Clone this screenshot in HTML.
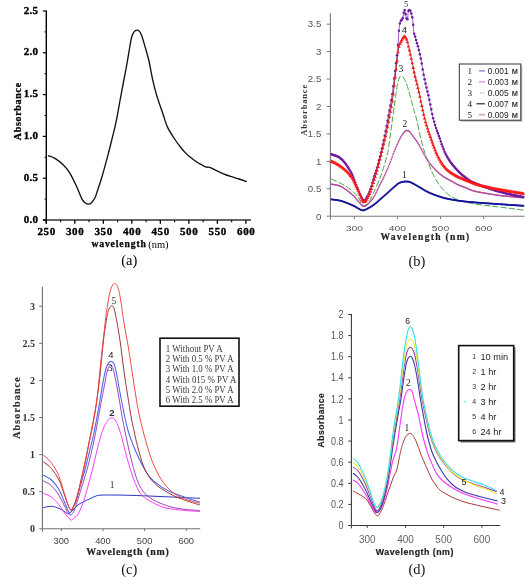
<!DOCTYPE html>
<html><head><meta charset="utf-8"><title>Absorbance spectra</title>
<style>
html,body{margin:0;padding:0;background:#fff;}
body{width:525px;height:577px;overflow:hidden;}
svg{display:block;will-change:transform;font-family:"Liberation Sans",sans-serif;}

</style></head>
<body>
<svg width="525" height="577" viewBox="0 0 525 577">
<rect x="0" y="0" width="525" height="577" fill="#fff"/>
<line x1="46.30" y1="10.50" x2="46.30" y2="223.50" stroke="#000" stroke-width="1.40"/>
<line x1="43.00" y1="220.00" x2="251.00" y2="220.00" stroke="#333" stroke-width="1.60"/>
<line x1="42.80" y1="220.00" x2="46.30" y2="220.00" stroke="#000" stroke-width="1.20"/>
<text x="38.30" y="222.50" font-family="Liberation Serif" font-size="11.00" font-weight="bold" text-anchor="end" fill="#000" letter-spacing="0.3" stroke="#000" stroke-width="0.35">0.0</text>
<line x1="42.80" y1="178.20" x2="46.30" y2="178.20" stroke="#000" stroke-width="1.20"/>
<text x="38.30" y="180.70" font-family="Liberation Serif" font-size="11.00" font-weight="bold" text-anchor="end" fill="#000" letter-spacing="0.3" stroke="#000" stroke-width="0.35">0.5</text>
<line x1="42.80" y1="136.40" x2="46.30" y2="136.40" stroke="#000" stroke-width="1.20"/>
<text x="38.30" y="138.90" font-family="Liberation Serif" font-size="11.00" font-weight="bold" text-anchor="end" fill="#000" letter-spacing="0.3" stroke="#000" stroke-width="0.35">1.0</text>
<line x1="42.80" y1="94.60" x2="46.30" y2="94.60" stroke="#000" stroke-width="1.20"/>
<text x="38.30" y="97.10" font-family="Liberation Serif" font-size="11.00" font-weight="bold" text-anchor="end" fill="#000" letter-spacing="0.3" stroke="#000" stroke-width="0.35">1.5</text>
<line x1="42.80" y1="52.80" x2="46.30" y2="52.80" stroke="#000" stroke-width="1.20"/>
<text x="38.30" y="55.30" font-family="Liberation Serif" font-size="11.00" font-weight="bold" text-anchor="end" fill="#000" letter-spacing="0.3" stroke="#000" stroke-width="0.35">2.0</text>
<line x1="42.80" y1="11.00" x2="46.30" y2="11.00" stroke="#000" stroke-width="1.20"/>
<text x="38.30" y="13.50" font-family="Liberation Serif" font-size="11.00" font-weight="bold" text-anchor="end" fill="#000" letter-spacing="0.3" stroke="#000" stroke-width="0.35">2.5</text>
<line x1="44.60" y1="199.10" x2="46.30" y2="199.10" stroke="#000" stroke-width="1.00"/>
<line x1="44.60" y1="157.30" x2="46.30" y2="157.30" stroke="#000" stroke-width="1.00"/>
<line x1="44.60" y1="115.50" x2="46.30" y2="115.50" stroke="#000" stroke-width="1.00"/>
<line x1="44.60" y1="73.70" x2="46.30" y2="73.70" stroke="#000" stroke-width="1.00"/>
<line x1="44.60" y1="31.90" x2="46.30" y2="31.90" stroke="#000" stroke-width="1.00"/>
<line x1="46.30" y1="220.00" x2="46.30" y2="223.80" stroke="#000" stroke-width="1.30"/>
<text x="46.60" y="234.80" font-family="Liberation Serif" font-size="11.00" font-weight="bold" text-anchor="middle" fill="#000" letter-spacing="0.6" stroke="#000" stroke-width="0.35">250</text>
<line x1="74.81" y1="220.00" x2="74.81" y2="223.80" stroke="#000" stroke-width="1.30"/>
<text x="75.11" y="234.80" font-family="Liberation Serif" font-size="11.00" font-weight="bold" text-anchor="middle" fill="#000" letter-spacing="0.6" stroke="#000" stroke-width="0.35">300</text>
<line x1="103.33" y1="220.00" x2="103.33" y2="223.80" stroke="#000" stroke-width="1.30"/>
<text x="103.63" y="234.80" font-family="Liberation Serif" font-size="11.00" font-weight="bold" text-anchor="middle" fill="#000" letter-spacing="0.6" stroke="#000" stroke-width="0.35">350</text>
<line x1="131.84" y1="220.00" x2="131.84" y2="223.80" stroke="#000" stroke-width="1.30"/>
<text x="132.15" y="234.80" font-family="Liberation Serif" font-size="11.00" font-weight="bold" text-anchor="middle" fill="#000" letter-spacing="0.6" stroke="#000" stroke-width="0.35">400</text>
<line x1="160.36" y1="220.00" x2="160.36" y2="223.80" stroke="#000" stroke-width="1.30"/>
<text x="160.66" y="234.80" font-family="Liberation Serif" font-size="11.00" font-weight="bold" text-anchor="middle" fill="#000" letter-spacing="0.6" stroke="#000" stroke-width="0.35">450</text>
<line x1="188.88" y1="220.00" x2="188.88" y2="223.80" stroke="#000" stroke-width="1.30"/>
<text x="189.18" y="234.80" font-family="Liberation Serif" font-size="11.00" font-weight="bold" text-anchor="middle" fill="#000" letter-spacing="0.6" stroke="#000" stroke-width="0.35">500</text>
<line x1="217.39" y1="220.00" x2="217.39" y2="223.80" stroke="#000" stroke-width="1.30"/>
<text x="217.69" y="234.80" font-family="Liberation Serif" font-size="11.00" font-weight="bold" text-anchor="middle" fill="#000" letter-spacing="0.6" stroke="#000" stroke-width="0.35">550</text>
<line x1="245.91" y1="220.00" x2="245.91" y2="223.80" stroke="#000" stroke-width="1.30"/>
<text x="246.21" y="234.80" font-family="Liberation Serif" font-size="11.00" font-weight="bold" text-anchor="middle" fill="#000" letter-spacing="0.6" stroke="#000" stroke-width="0.35">600</text>
<line x1="60.56" y1="220.00" x2="60.56" y2="222.30" stroke="#000" stroke-width="1.10"/>
<line x1="89.07" y1="220.00" x2="89.07" y2="222.30" stroke="#000" stroke-width="1.10"/>
<line x1="117.59" y1="220.00" x2="117.59" y2="222.30" stroke="#000" stroke-width="1.10"/>
<line x1="146.10" y1="220.00" x2="146.10" y2="222.30" stroke="#000" stroke-width="1.10"/>
<line x1="174.62" y1="220.00" x2="174.62" y2="222.30" stroke="#000" stroke-width="1.10"/>
<line x1="203.13" y1="220.00" x2="203.13" y2="222.30" stroke="#000" stroke-width="1.10"/>
<line x1="231.65" y1="220.00" x2="231.65" y2="222.30" stroke="#000" stroke-width="1.10"/>
<text x="0.00" y="0.00" font-family="Liberation Serif" font-size="10.00" font-weight="bold" text-anchor="middle" fill="#000" transform="translate(21.3,111.2) rotate(-90)" letter-spacing="0.7" stroke="#000" stroke-width="0.25">Absorbance</text>
<text x="91.40" y="246.80" font-family="Liberation Serif" font-size="9.70" font-weight="bold" text-anchor="start" fill="#000" letter-spacing="0.85" stroke="#000" stroke-width="0.25">wavelength</text>
<text x="148.20" y="248.00" font-family="Liberation Serif" font-size="10.50" font-weight="normal" text-anchor="start" fill="#000" >(nm)</text>
<text x="129.30" y="264.90" font-family="Liberation Serif" font-size="14.50" font-weight="normal" text-anchor="middle" fill="#000" >(a)</text>
<path d="M48.50,155.80 C49.58,156.23 52.60,156.93 55.00,158.40 C57.40,159.87 60.45,162.20 62.90,164.60 C65.35,167.00 67.42,169.15 69.70,172.80 C71.98,176.45 74.50,182.03 76.60,186.50 C78.70,190.97 80.73,196.78 82.30,199.60 C83.87,202.42 84.97,202.65 86.00,203.40 C87.03,204.15 87.67,204.13 88.50,204.10 C89.33,204.07 89.93,204.22 91.00,203.20 C92.07,202.18 93.73,200.37 94.90,198.00 C96.07,195.63 96.87,192.38 98.00,189.00 C99.13,185.62 100.13,183.02 101.70,177.70 C103.27,172.38 105.77,163.22 107.40,157.10 C109.03,150.98 110.17,146.33 111.50,141.00 C112.83,135.67 114.38,129.60 115.40,125.10 C116.42,120.60 116.83,118.10 117.60,114.00 C118.37,109.90 119.02,105.83 120.00,100.50 C120.98,95.17 122.35,88.08 123.50,82.00 C124.65,75.92 125.88,69.67 126.90,64.00 C127.92,58.33 128.85,52.33 129.60,48.00 C130.35,43.67 130.83,40.40 131.40,38.00 C131.97,35.60 132.40,34.77 133.00,33.60 C133.60,32.43 134.32,31.57 135.00,31.00 C135.68,30.43 136.43,30.22 137.10,30.20 C137.77,30.18 138.27,30.10 139.00,30.90 C139.73,31.70 140.57,32.63 141.50,35.00 C142.43,37.37 143.68,42.02 144.60,45.10 C145.52,48.18 146.25,50.77 147.00,53.50 C147.75,56.23 148.17,57.18 149.10,61.50 C150.03,65.82 151.45,74.13 152.60,79.40 C153.75,84.67 154.85,89.00 156.00,93.10 C157.15,97.20 158.35,100.57 159.50,104.00 C160.65,107.43 161.58,109.88 162.90,113.70 C164.22,117.52 165.50,122.77 167.40,126.90 C169.30,131.03 172.20,135.23 174.30,138.50 C176.40,141.77 178.10,144.07 180.00,146.50 C181.90,148.93 183.87,151.22 185.70,153.10 C187.53,154.98 189.10,156.27 191.00,157.80 C192.90,159.33 195.27,161.10 197.10,162.30 C198.93,163.50 200.47,164.20 202.00,165.00 C203.53,165.80 205.02,166.72 206.30,167.10 C207.58,167.48 208.25,166.85 209.70,167.30 C211.15,167.75 212.90,168.80 215.00,169.80 C217.10,170.80 219.57,172.15 222.30,173.30 C225.03,174.45 228.62,175.75 231.40,176.70 C234.18,177.65 236.52,178.20 239.00,179.00 C241.48,179.80 245.08,181.08 246.30,181.50" fill="none" stroke="#111" stroke-width="1.35" stroke-linejoin="round" stroke-linecap="round" />
<line x1="330.40" y1="13.20" x2="330.40" y2="216.20" stroke="#7a7a7a" stroke-width="1.10"/>
<line x1="330.40" y1="216.20" x2="524.50" y2="216.20" stroke="#7a7a7a" stroke-width="1.10"/>
<line x1="326.60" y1="216.20" x2="330.40" y2="216.20" stroke="#7a7a7a" stroke-width="1.00"/>
<text transform="translate(321.30,219.50) scale(1.080,1)" font-family="Liberation Sans" font-size="9.00" font-weight="normal" text-anchor="end" fill="#555" >0</text>
<line x1="326.60" y1="188.77" x2="330.40" y2="188.77" stroke="#7a7a7a" stroke-width="1.00"/>
<text transform="translate(321.30,192.07) scale(1.080,1)" font-family="Liberation Sans" font-size="9.00" font-weight="normal" text-anchor="end" fill="#555" >0.5</text>
<line x1="326.60" y1="161.34" x2="330.40" y2="161.34" stroke="#7a7a7a" stroke-width="1.00"/>
<text transform="translate(321.30,164.64) scale(1.080,1)" font-family="Liberation Sans" font-size="9.00" font-weight="normal" text-anchor="end" fill="#555" >1</text>
<line x1="326.60" y1="133.91" x2="330.40" y2="133.91" stroke="#7a7a7a" stroke-width="1.00"/>
<text transform="translate(321.30,137.21) scale(1.080,1)" font-family="Liberation Sans" font-size="9.00" font-weight="normal" text-anchor="end" fill="#555" >1.5</text>
<line x1="326.60" y1="106.48" x2="330.40" y2="106.48" stroke="#7a7a7a" stroke-width="1.00"/>
<text transform="translate(321.30,109.78) scale(1.080,1)" font-family="Liberation Sans" font-size="9.00" font-weight="normal" text-anchor="end" fill="#555" >2</text>
<line x1="326.60" y1="79.05" x2="330.40" y2="79.05" stroke="#7a7a7a" stroke-width="1.00"/>
<text transform="translate(321.30,82.35) scale(1.080,1)" font-family="Liberation Sans" font-size="9.00" font-weight="normal" text-anchor="end" fill="#555" >2.5</text>
<line x1="326.60" y1="51.62" x2="330.40" y2="51.62" stroke="#7a7a7a" stroke-width="1.00"/>
<text transform="translate(321.30,54.92) scale(1.080,1)" font-family="Liberation Sans" font-size="9.00" font-weight="normal" text-anchor="end" fill="#555" >3</text>
<line x1="326.60" y1="24.19" x2="330.40" y2="24.19" stroke="#7a7a7a" stroke-width="1.00"/>
<text transform="translate(321.30,27.49) scale(1.080,1)" font-family="Liberation Sans" font-size="9.00" font-weight="normal" text-anchor="end" fill="#555" >3.5</text>
<line x1="330.40" y1="216.20" x2="330.40" y2="219.60" stroke="#7a7a7a" stroke-width="1.00"/>
<line x1="354.30" y1="216.20" x2="354.30" y2="219.00" stroke="#7a7a7a" stroke-width="1.00"/>
<text transform="translate(354.30,230.60) scale(1.300,1)" font-family="Liberation Sans" font-size="8.00" font-weight="normal" text-anchor="middle" fill="#555" >300</text>
<line x1="397.40" y1="216.20" x2="397.40" y2="219.00" stroke="#7a7a7a" stroke-width="1.00"/>
<text transform="translate(397.40,230.60) scale(1.300,1)" font-family="Liberation Sans" font-size="8.00" font-weight="normal" text-anchor="middle" fill="#555" >400</text>
<line x1="440.50" y1="216.20" x2="440.50" y2="219.00" stroke="#7a7a7a" stroke-width="1.00"/>
<text transform="translate(440.50,230.60) scale(1.300,1)" font-family="Liberation Sans" font-size="8.00" font-weight="normal" text-anchor="middle" fill="#555" >500</text>
<line x1="483.60" y1="216.20" x2="483.60" y2="219.00" stroke="#7a7a7a" stroke-width="1.00"/>
<text transform="translate(483.60,230.60) scale(1.300,1)" font-family="Liberation Sans" font-size="8.00" font-weight="normal" text-anchor="middle" fill="#555" >600</text>
<text x="0.00" y="0.00" font-family="Liberation Serif" font-size="8.40" font-weight="bold" text-anchor="middle" fill="#333" transform="translate(307.4,109.8) rotate(-90)" letter-spacing="0.9">Absorbance</text>
<text x="380.40" y="239.80" font-family="Liberation Serif" font-size="9.60" font-weight="bold" text-anchor="start" fill="#222" letter-spacing="1.3" stroke="#222" stroke-width="0.2">Wavelength (nm)</text>
<text x="417.00" y="265.50" font-family="Liberation Serif" font-size="14.50" font-weight="normal" text-anchor="middle" fill="#111" >(b)</text>
<path d="M331.50,179.00 C333.78,180.12 341.32,183.32 345.20,185.70 C349.08,188.08 352.50,191.08 354.80,193.30 C357.10,195.52 357.58,197.02 359.00,199.00 C360.42,200.98 361.80,204.53 363.30,205.20 C364.80,205.87 366.38,204.87 368.00,203.00 C369.62,201.13 371.13,197.83 373.00,194.00 C374.87,190.17 377.62,183.83 379.20,180.00 C380.78,176.17 381.45,174.17 382.50,171.00 C383.55,167.83 384.58,164.33 385.50,161.00 C386.42,157.67 387.08,156.17 388.00,151.00 C388.92,145.83 390.20,135.67 391.00,130.00 C391.80,124.33 392.27,120.83 392.80,117.00 C393.33,113.17 393.70,110.67 394.20,107.00 C394.70,103.33 395.25,98.83 395.80,95.00 C396.35,91.17 396.92,86.83 397.50,84.00 C398.08,81.17 398.72,79.37 399.30,78.00 C399.88,76.63 400.42,76.00 401.00,75.80 C401.58,75.60 402.22,76.18 402.80,76.80 C403.38,77.42 403.93,78.47 404.50,79.50 C405.07,80.53 405.53,81.25 406.20,83.00 C406.87,84.75 407.62,87.00 408.50,90.00 C409.38,93.00 410.58,97.58 411.50,101.00 C412.42,104.42 413.12,107.33 414.00,110.50 C414.88,113.67 415.85,116.10 416.80,120.00 C417.75,123.90 418.63,129.28 419.70,133.90 C420.77,138.52 421.82,143.08 423.20,147.70 C424.58,152.32 426.27,156.98 428.00,161.60 C429.73,166.22 431.52,171.25 433.60,175.40 C435.68,179.55 437.97,183.25 440.50,186.50 C443.03,189.75 445.80,192.65 448.80,194.90 C451.80,197.15 454.80,198.60 458.50,200.00 C462.20,201.40 466.42,202.38 471.00,203.30 C475.58,204.22 480.93,204.83 486.00,205.50 C491.07,206.17 495.13,206.53 501.40,207.30 C507.67,208.07 519.90,209.63 523.60,210.10" fill="none" stroke="#3f9f3f" stroke-width="0.95" stroke-linejoin="round" stroke-linecap="round" stroke-dasharray="5.5 2.8"/>
<path d="M331.50,184.20 C333.15,184.62 337.83,184.87 341.40,186.70 C344.97,188.53 350.13,192.82 352.90,195.20 C355.67,197.58 356.27,199.15 358.00,201.00 C359.73,202.85 361.63,205.80 363.30,206.30 C364.97,206.80 366.25,205.53 368.00,204.00 C369.75,202.47 371.97,200.02 373.80,197.10 C375.63,194.18 377.40,189.68 379.00,186.50 C380.60,183.32 382.07,180.75 383.40,178.00 C384.73,175.25 385.73,172.92 387.00,170.00 C388.27,167.08 389.70,163.83 391.00,160.50 C392.30,157.17 393.42,153.42 394.80,150.00 C396.18,146.58 398.10,142.50 399.30,140.00 C400.50,137.50 401.13,136.37 402.00,135.00 C402.87,133.63 403.65,132.55 404.50,131.80 C405.35,131.05 406.18,130.47 407.10,130.50 C408.02,130.53 408.85,130.83 410.00,132.00 C411.15,133.17 412.62,135.57 414.00,137.50 C415.38,139.43 416.88,141.27 418.30,143.60 C419.72,145.93 421.12,148.97 422.50,151.50 C423.88,154.03 425.02,156.38 426.60,158.80 C428.18,161.22 430.15,163.80 432.00,166.00 C433.85,168.20 435.70,170.17 437.70,172.00 C439.70,173.83 441.68,175.47 444.00,177.00 C446.32,178.53 449.27,179.90 451.60,181.20 C453.93,182.50 455.70,183.73 458.00,184.80 C460.30,185.87 463.07,186.67 465.40,187.60 C467.73,188.53 469.57,189.62 472.00,190.40 C474.43,191.18 475.33,191.45 480.00,192.30 C484.67,193.15 492.73,194.58 500.00,195.50 C507.27,196.42 519.67,197.42 523.60,197.80" fill="none" stroke="#d080b8" stroke-width="1.00" stroke-linejoin="round" stroke-linecap="round" />
<g fill="#b04a98"><rect x="330.80" y="183.50" width="1.4" height="1.4"/><rect x="331.75" y="183.68" width="1.4" height="1.4"/><rect x="332.70" y="183.83" width="1.4" height="1.4"/><rect x="333.65" y="183.98" width="1.4" height="1.4"/><rect x="334.60" y="184.14" width="1.4" height="1.4"/><rect x="335.55" y="184.32" width="1.4" height="1.4"/><rect x="336.50" y="184.53" width="1.4" height="1.4"/><rect x="337.45" y="184.77" width="1.4" height="1.4"/><rect x="338.40" y="185.06" width="1.4" height="1.4"/><rect x="339.35" y="185.40" width="1.4" height="1.4"/><rect x="340.30" y="185.80" width="1.4" height="1.4"/><rect x="341.25" y="186.29" width="1.4" height="1.4"/><rect x="342.20" y="186.85" width="1.4" height="1.4"/><rect x="343.15" y="187.46" width="1.4" height="1.4"/><rect x="344.10" y="188.10" width="1.4" height="1.4"/><rect x="345.05" y="188.77" width="1.4" height="1.4"/><rect x="346.00" y="189.48" width="1.4" height="1.4"/><rect x="346.95" y="190.20" width="1.4" height="1.4"/><rect x="347.90" y="190.94" width="1.4" height="1.4"/><rect x="348.85" y="191.70" width="1.4" height="1.4"/><rect x="349.80" y="192.48" width="1.4" height="1.4"/><rect x="350.75" y="193.27" width="1.4" height="1.4"/><rect x="351.70" y="194.07" width="1.4" height="1.4"/><rect x="352.65" y="194.90" width="1.4" height="1.4"/><rect x="353.60" y="195.81" width="1.4" height="1.4"/><rect x="354.55" y="196.87" width="1.4" height="1.4"/><rect x="355.50" y="198.08" width="1.4" height="1.4"/><rect x="356.45" y="199.32" width="1.4" height="1.4"/><rect x="357.40" y="200.41" width="1.4" height="1.4"/><rect x="358.35" y="201.51" width="1.4" height="1.4"/><rect x="359.30" y="202.66" width="1.4" height="1.4"/><rect x="360.25" y="203.77" width="1.4" height="1.4"/><rect x="361.20" y="204.72" width="1.4" height="1.4"/><rect x="362.15" y="205.41" width="1.4" height="1.4"/><rect x="363.10" y="205.70" width="1.4" height="1.4"/><rect x="364.05" y="205.60" width="1.4" height="1.4"/><rect x="365.00" y="205.16" width="1.4" height="1.4"/><rect x="365.95" y="204.47" width="1.4" height="1.4"/><rect x="366.90" y="203.65" width="1.4" height="1.4"/><rect x="367.85" y="202.80" width="1.4" height="1.4"/><rect x="368.80" y="201.87" width="1.4" height="1.4"/><rect x="369.75" y="200.85" width="1.4" height="1.4"/><rect x="370.70" y="199.73" width="1.4" height="1.4"/><rect x="371.65" y="198.51" width="1.4" height="1.4"/><rect x="372.60" y="197.17" width="1.4" height="1.4"/><rect x="373.55" y="195.65" width="1.4" height="1.4"/><rect x="374.50" y="193.88" width="1.4" height="1.4"/><rect x="375.45" y="191.93" width="1.4" height="1.4"/><rect x="376.40" y="189.86" width="1.4" height="1.4"/><rect x="377.35" y="187.78" width="1.4" height="1.4"/><rect x="378.30" y="185.80" width="1.4" height="1.4"/><rect x="379.25" y="183.95" width="1.4" height="1.4"/><rect x="380.20" y="182.14" width="1.4" height="1.4"/><rect x="381.15" y="180.35" width="1.4" height="1.4"/><rect x="382.10" y="178.51" width="1.4" height="1.4"/><rect x="383.05" y="176.57" width="1.4" height="1.4"/><rect x="384.00" y="174.53" width="1.4" height="1.4"/><rect x="384.95" y="172.40" width="1.4" height="1.4"/><rect x="385.90" y="170.22" width="1.4" height="1.4"/><rect x="386.85" y="168.04" width="1.4" height="1.4"/><rect x="387.80" y="165.84" width="1.4" height="1.4"/><rect x="388.75" y="163.61" width="1.4" height="1.4"/><rect x="389.70" y="161.31" width="1.4" height="1.4"/><rect x="390.65" y="158.88" width="1.4" height="1.4"/><rect x="391.60" y="156.23" width="1.4" height="1.4"/><rect x="392.55" y="153.48" width="1.4" height="1.4"/><rect x="393.50" y="150.84" width="1.4" height="1.4"/><rect x="394.45" y="148.45" width="1.4" height="1.4"/><rect x="395.40" y="146.23" width="1.4" height="1.4"/><rect x="396.35" y="144.11" width="1.4" height="1.4"/><rect x="397.30" y="142.05" width="1.4" height="1.4"/><rect x="398.25" y="140.03" width="1.4" height="1.4"/><rect x="399.20" y="138.07" width="1.4" height="1.4"/><rect x="400.15" y="136.24" width="1.4" height="1.4"/><rect x="401.10" y="134.62" width="1.4" height="1.4"/><rect x="402.05" y="133.16" width="1.4" height="1.4"/><rect x="403.00" y="131.92" width="1.4" height="1.4"/><rect x="403.95" y="130.97" width="1.4" height="1.4"/><rect x="404.90" y="130.26" width="1.4" height="1.4"/><rect x="405.85" y="129.85" width="1.4" height="1.4"/><rect x="406.80" y="129.83" width="1.4" height="1.4"/><rect x="407.75" y="130.12" width="1.4" height="1.4"/><rect x="408.70" y="130.74" width="1.4" height="1.4"/><rect x="409.65" y="131.68" width="1.4" height="1.4"/><rect x="410.60" y="132.90" width="1.4" height="1.4"/><rect x="411.55" y="134.25" width="1.4" height="1.4"/><rect x="412.50" y="135.65" width="1.4" height="1.4"/><rect x="413.45" y="137.01" width="1.4" height="1.4"/><rect x="414.40" y="138.30" width="1.4" height="1.4"/><rect x="415.35" y="139.58" width="1.4" height="1.4"/><rect x="416.30" y="140.91" width="1.4" height="1.4"/><rect x="417.25" y="142.34" width="1.4" height="1.4"/><rect x="418.20" y="143.93" width="1.4" height="1.4"/><rect x="419.15" y="145.69" width="1.4" height="1.4"/><rect x="420.10" y="147.53" width="1.4" height="1.4"/><rect x="421.05" y="149.39" width="1.4" height="1.4"/><rect x="422.00" y="151.17" width="1.4" height="1.4"/><rect x="422.95" y="152.95" width="1.4" height="1.4"/><rect x="423.90" y="154.72" width="1.4" height="1.4"/><rect x="424.85" y="156.41" width="1.4" height="1.4"/><rect x="425.80" y="157.95" width="1.4" height="1.4"/><rect x="426.75" y="159.36" width="1.4" height="1.4"/><rect x="427.70" y="160.70" width="1.4" height="1.4"/><rect x="428.65" y="161.98" width="1.4" height="1.4"/><rect x="429.60" y="163.21" width="1.4" height="1.4"/><rect x="430.55" y="164.39" width="1.4" height="1.4"/><rect x="431.50" y="165.54" width="1.4" height="1.4"/><rect x="432.45" y="166.64" width="1.4" height="1.4"/><rect x="433.40" y="167.69" width="1.4" height="1.4"/><rect x="434.35" y="168.71" width="1.4" height="1.4"/><rect x="435.30" y="169.67" width="1.4" height="1.4"/><rect x="436.25" y="170.60" width="1.4" height="1.4"/><rect x="437.20" y="171.48" width="1.4" height="1.4"/><rect x="438.15" y="172.33" width="1.4" height="1.4"/><rect x="439.10" y="173.15" width="1.4" height="1.4"/><rect x="440.05" y="173.93" width="1.4" height="1.4"/><rect x="441.00" y="174.67" width="1.4" height="1.4"/><rect x="441.95" y="175.37" width="1.4" height="1.4"/><rect x="442.90" y="176.03" width="1.4" height="1.4"/><rect x="443.85" y="176.65" width="1.4" height="1.4"/><rect x="444.80" y="177.23" width="1.4" height="1.4"/><rect x="445.75" y="177.76" width="1.4" height="1.4"/><rect x="446.70" y="178.28" width="1.4" height="1.4"/><rect x="447.65" y="178.78" width="1.4" height="1.4"/><rect x="448.60" y="179.27" width="1.4" height="1.4"/><rect x="449.55" y="179.77" width="1.4" height="1.4"/><rect x="450.50" y="180.28" width="1.4" height="1.4"/><rect x="451.45" y="180.81" width="1.4" height="1.4"/><rect x="452.40" y="181.37" width="1.4" height="1.4"/><rect x="453.35" y="181.93" width="1.4" height="1.4"/><rect x="454.30" y="182.50" width="1.4" height="1.4"/><rect x="455.25" y="183.04" width="1.4" height="1.4"/><rect x="456.20" y="183.56" width="1.4" height="1.4"/><rect x="457.15" y="184.03" width="1.4" height="1.4"/><rect x="458.10" y="184.45" width="1.4" height="1.4"/><rect x="459.05" y="184.84" width="1.4" height="1.4"/><rect x="460.00" y="185.20" width="1.4" height="1.4"/><rect x="460.95" y="185.54" width="1.4" height="1.4"/><rect x="461.90" y="185.87" width="1.4" height="1.4"/><rect x="462.85" y="186.21" width="1.4" height="1.4"/><rect x="463.80" y="186.55" width="1.4" height="1.4"/><rect x="464.75" y="186.92" width="1.4" height="1.4"/><rect x="465.70" y="187.32" width="1.4" height="1.4"/><rect x="466.65" y="187.75" width="1.4" height="1.4"/><rect x="467.60" y="188.19" width="1.4" height="1.4"/><rect x="468.55" y="188.62" width="1.4" height="1.4"/><rect x="469.50" y="189.03" width="1.4" height="1.4"/><rect x="470.45" y="189.41" width="1.4" height="1.4"/><rect x="471.40" y="189.73" width="1.4" height="1.4"/><rect x="472.35" y="190.03" width="1.4" height="1.4"/><rect x="473.30" y="190.32" width="1.4" height="1.4"/><rect x="474.25" y="190.57" width="1.4" height="1.4"/><rect x="475.20" y="190.80" width="1.4" height="1.4"/><rect x="476.15" y="191.00" width="1.4" height="1.4"/><rect x="477.10" y="191.19" width="1.4" height="1.4"/><rect x="478.05" y="191.37" width="1.4" height="1.4"/><rect x="479.00" y="191.55" width="1.4" height="1.4"/><rect x="479.95" y="191.72" width="1.4" height="1.4"/><rect x="480.90" y="191.89" width="1.4" height="1.4"/><rect x="481.85" y="192.06" width="1.4" height="1.4"/><rect x="482.80" y="192.23" width="1.4" height="1.4"/><rect x="483.75" y="192.40" width="1.4" height="1.4"/><rect x="484.70" y="192.56" width="1.4" height="1.4"/><rect x="485.65" y="192.73" width="1.4" height="1.4"/><rect x="486.60" y="192.89" width="1.4" height="1.4"/><rect x="487.55" y="193.05" width="1.4" height="1.4"/><rect x="488.50" y="193.20" width="1.4" height="1.4"/><rect x="489.45" y="193.36" width="1.4" height="1.4"/><rect x="490.40" y="193.51" width="1.4" height="1.4"/><rect x="491.35" y="193.66" width="1.4" height="1.4"/><rect x="492.30" y="193.81" width="1.4" height="1.4"/><rect x="493.25" y="193.96" width="1.4" height="1.4"/><rect x="494.20" y="194.10" width="1.4" height="1.4"/><rect x="495.15" y="194.24" width="1.4" height="1.4"/><rect x="496.10" y="194.37" width="1.4" height="1.4"/><rect x="497.05" y="194.50" width="1.4" height="1.4"/><rect x="498.00" y="194.63" width="1.4" height="1.4"/><rect x="498.95" y="194.76" width="1.4" height="1.4"/><rect x="499.90" y="194.87" width="1.4" height="1.4"/><rect x="500.85" y="194.99" width="1.4" height="1.4"/><rect x="501.80" y="195.10" width="1.4" height="1.4"/><rect x="502.75" y="195.20" width="1.4" height="1.4"/><rect x="503.70" y="195.31" width="1.4" height="1.4"/><rect x="504.65" y="195.40" width="1.4" height="1.4"/><rect x="505.60" y="195.50" width="1.4" height="1.4"/><rect x="506.55" y="195.60" width="1.4" height="1.4"/><rect x="507.50" y="195.69" width="1.4" height="1.4"/><rect x="508.45" y="195.78" width="1.4" height="1.4"/><rect x="509.40" y="195.87" width="1.4" height="1.4"/><rect x="510.35" y="195.96" width="1.4" height="1.4"/><rect x="511.30" y="196.05" width="1.4" height="1.4"/><rect x="512.25" y="196.14" width="1.4" height="1.4"/><rect x="513.20" y="196.23" width="1.4" height="1.4"/><rect x="514.15" y="196.31" width="1.4" height="1.4"/><rect x="515.10" y="196.40" width="1.4" height="1.4"/><rect x="516.05" y="196.48" width="1.4" height="1.4"/><rect x="517.00" y="196.57" width="1.4" height="1.4"/><rect x="517.95" y="196.65" width="1.4" height="1.4"/><rect x="518.90" y="196.74" width="1.4" height="1.4"/><rect x="519.85" y="196.82" width="1.4" height="1.4"/><rect x="520.80" y="196.91" width="1.4" height="1.4"/><rect x="521.75" y="196.99" width="1.4" height="1.4"/><rect x="522.70" y="197.08" width="1.4" height="1.4"/></g>
<path d="M331.50,199.40 C333.15,199.67 337.83,199.98 341.40,201.00 C344.97,202.02 350.13,204.28 352.90,205.50 C355.67,206.72 356.42,207.50 358.00,208.30 C359.58,209.10 361.07,210.12 362.40,210.30 C363.73,210.48 364.10,210.32 366.00,209.40 C367.90,208.48 371.47,206.45 373.80,204.80 C376.13,203.15 377.78,201.42 380.00,199.50 C382.22,197.58 384.32,195.75 387.10,193.30 C389.88,190.85 394.38,186.63 396.70,184.80 C399.02,182.97 399.42,182.85 401.00,182.30 C402.58,181.75 404.62,181.50 406.20,181.50 C407.78,181.50 408.48,181.47 410.50,182.30 C412.52,183.13 415.38,184.87 418.30,186.50 C421.22,188.13 424.30,190.37 428.00,192.10 C431.70,193.83 436.57,195.65 440.50,196.90 C444.43,198.15 447.52,198.83 451.60,199.60 C455.68,200.37 460.27,200.97 465.00,201.50 C469.73,202.03 473.93,202.33 480.00,202.80 C486.07,203.27 494.13,203.80 501.40,204.30 C508.67,204.80 519.90,205.55 523.60,205.80" fill="none" stroke="#2a2ab8" stroke-width="1.00" stroke-linejoin="round" stroke-linecap="round" />
<g fill="#14149a"><rect x="330.65" y="198.55" width="1.7" height="1.7"/><rect x="331.60" y="198.68" width="1.7" height="1.7"/><rect x="332.55" y="198.79" width="1.7" height="1.7"/><rect x="333.50" y="198.90" width="1.7" height="1.7"/><rect x="334.45" y="199.01" width="1.7" height="1.7"/><rect x="335.40" y="199.14" width="1.7" height="1.7"/><rect x="336.35" y="199.28" width="1.7" height="1.7"/><rect x="337.30" y="199.43" width="1.7" height="1.7"/><rect x="338.25" y="199.61" width="1.7" height="1.7"/><rect x="339.20" y="199.81" width="1.7" height="1.7"/><rect x="340.15" y="200.04" width="1.7" height="1.7"/><rect x="341.10" y="200.31" width="1.7" height="1.7"/><rect x="342.05" y="200.62" width="1.7" height="1.7"/><rect x="343.00" y="200.94" width="1.7" height="1.7"/><rect x="343.95" y="201.29" width="1.7" height="1.7"/><rect x="344.90" y="201.65" width="1.7" height="1.7"/><rect x="345.85" y="202.02" width="1.7" height="1.7"/><rect x="346.80" y="202.41" width="1.7" height="1.7"/><rect x="347.75" y="202.80" width="1.7" height="1.7"/><rect x="348.70" y="203.20" width="1.7" height="1.7"/><rect x="349.65" y="203.60" width="1.7" height="1.7"/><rect x="350.60" y="204.01" width="1.7" height="1.7"/><rect x="351.55" y="204.43" width="1.7" height="1.7"/><rect x="352.50" y="204.85" width="1.7" height="1.7"/><rect x="353.45" y="205.31" width="1.7" height="1.7"/><rect x="354.40" y="205.82" width="1.7" height="1.7"/><rect x="355.35" y="206.40" width="1.7" height="1.7"/><rect x="356.30" y="206.98" width="1.7" height="1.7"/><rect x="357.25" y="207.50" width="1.7" height="1.7"/><rect x="358.20" y="208.01" width="1.7" height="1.7"/><rect x="359.15" y="208.53" width="1.7" height="1.7"/><rect x="360.10" y="209.00" width="1.7" height="1.7"/><rect x="361.05" y="209.35" width="1.7" height="1.7"/><rect x="362.00" y="209.50" width="1.7" height="1.7"/><rect x="362.95" y="209.46" width="1.7" height="1.7"/><rect x="363.90" y="209.13" width="1.7" height="1.7"/><rect x="364.85" y="208.69" width="1.7" height="1.7"/><rect x="365.80" y="208.23" width="1.7" height="1.7"/><rect x="366.75" y="207.73" width="1.7" height="1.7"/><rect x="367.70" y="207.20" width="1.7" height="1.7"/><rect x="368.65" y="206.66" width="1.7" height="1.7"/><rect x="369.60" y="206.10" width="1.7" height="1.7"/><rect x="370.55" y="205.53" width="1.7" height="1.7"/><rect x="371.50" y="204.93" width="1.7" height="1.7"/><rect x="372.45" y="204.30" width="1.7" height="1.7"/><rect x="373.40" y="203.62" width="1.7" height="1.7"/><rect x="374.35" y="202.89" width="1.7" height="1.7"/><rect x="375.30" y="202.10" width="1.7" height="1.7"/><rect x="376.25" y="201.26" width="1.7" height="1.7"/><rect x="377.20" y="200.40" width="1.7" height="1.7"/><rect x="378.15" y="199.53" width="1.7" height="1.7"/><rect x="379.10" y="198.69" width="1.7" height="1.7"/><rect x="380.05" y="197.87" width="1.7" height="1.7"/><rect x="381.00" y="197.05" width="1.7" height="1.7"/><rect x="381.95" y="196.22" width="1.7" height="1.7"/><rect x="382.90" y="195.39" width="1.7" height="1.7"/><rect x="383.85" y="194.56" width="1.7" height="1.7"/><rect x="384.80" y="193.72" width="1.7" height="1.7"/><rect x="385.75" y="192.89" width="1.7" height="1.7"/><rect x="386.70" y="192.05" width="1.7" height="1.7"/><rect x="387.65" y="191.20" width="1.7" height="1.7"/><rect x="388.60" y="190.34" width="1.7" height="1.7"/><rect x="389.55" y="189.48" width="1.7" height="1.7"/><rect x="390.50" y="188.62" width="1.7" height="1.7"/><rect x="391.45" y="187.77" width="1.7" height="1.7"/><rect x="392.40" y="186.91" width="1.7" height="1.7"/><rect x="393.35" y="186.07" width="1.7" height="1.7"/><rect x="394.30" y="185.24" width="1.7" height="1.7"/><rect x="395.25" y="184.44" width="1.7" height="1.7"/><rect x="396.20" y="183.67" width="1.7" height="1.7"/><rect x="397.15" y="182.95" width="1.7" height="1.7"/><rect x="398.10" y="182.32" width="1.7" height="1.7"/><rect x="399.05" y="181.85" width="1.7" height="1.7"/><rect x="400.00" y="181.50" width="1.7" height="1.7"/><rect x="400.95" y="181.21" width="1.7" height="1.7"/><rect x="401.90" y="180.99" width="1.7" height="1.7"/><rect x="402.85" y="180.83" width="1.7" height="1.7"/><rect x="403.80" y="180.72" width="1.7" height="1.7"/><rect x="404.75" y="180.66" width="1.7" height="1.7"/><rect x="405.70" y="180.65" width="1.7" height="1.7"/><rect x="406.65" y="180.67" width="1.7" height="1.7"/><rect x="407.60" y="180.78" width="1.7" height="1.7"/><rect x="408.55" y="181.04" width="1.7" height="1.7"/><rect x="409.50" y="181.39" width="1.7" height="1.7"/><rect x="410.45" y="181.81" width="1.7" height="1.7"/><rect x="411.40" y="182.27" width="1.7" height="1.7"/><rect x="412.35" y="182.78" width="1.7" height="1.7"/><rect x="413.30" y="183.30" width="1.7" height="1.7"/><rect x="414.25" y="183.83" width="1.7" height="1.7"/><rect x="415.20" y="184.37" width="1.7" height="1.7"/><rect x="416.15" y="184.92" width="1.7" height="1.7"/><rect x="417.10" y="185.45" width="1.7" height="1.7"/><rect x="418.05" y="185.99" width="1.7" height="1.7"/><rect x="419.00" y="186.56" width="1.7" height="1.7"/><rect x="419.95" y="187.14" width="1.7" height="1.7"/><rect x="420.90" y="187.73" width="1.7" height="1.7"/><rect x="421.85" y="188.32" width="1.7" height="1.7"/><rect x="422.80" y="188.89" width="1.7" height="1.7"/><rect x="423.75" y="189.46" width="1.7" height="1.7"/><rect x="424.70" y="189.99" width="1.7" height="1.7"/><rect x="425.65" y="190.51" width="1.7" height="1.7"/><rect x="426.60" y="190.99" width="1.7" height="1.7"/><rect x="427.55" y="191.44" width="1.7" height="1.7"/><rect x="428.50" y="191.86" width="1.7" height="1.7"/><rect x="429.45" y="192.28" width="1.7" height="1.7"/><rect x="430.40" y="192.68" width="1.7" height="1.7"/><rect x="431.35" y="193.06" width="1.7" height="1.7"/><rect x="432.30" y="193.44" width="1.7" height="1.7"/><rect x="433.25" y="193.81" width="1.7" height="1.7"/><rect x="434.20" y="194.17" width="1.7" height="1.7"/><rect x="435.15" y="194.51" width="1.7" height="1.7"/><rect x="436.10" y="194.86" width="1.7" height="1.7"/><rect x="437.05" y="195.19" width="1.7" height="1.7"/><rect x="438.00" y="195.51" width="1.7" height="1.7"/><rect x="438.95" y="195.82" width="1.7" height="1.7"/><rect x="439.90" y="196.13" width="1.7" height="1.7"/><rect x="440.85" y="196.42" width="1.7" height="1.7"/><rect x="441.80" y="196.70" width="1.7" height="1.7"/><rect x="442.75" y="196.97" width="1.7" height="1.7"/><rect x="443.70" y="197.22" width="1.7" height="1.7"/><rect x="444.65" y="197.46" width="1.7" height="1.7"/><rect x="445.60" y="197.69" width="1.7" height="1.7"/><rect x="446.55" y="197.90" width="1.7" height="1.7"/><rect x="447.50" y="198.11" width="1.7" height="1.7"/><rect x="448.45" y="198.30" width="1.7" height="1.7"/><rect x="449.40" y="198.49" width="1.7" height="1.7"/><rect x="450.35" y="198.67" width="1.7" height="1.7"/><rect x="451.30" y="198.85" width="1.7" height="1.7"/><rect x="452.25" y="199.02" width="1.7" height="1.7"/><rect x="453.20" y="199.18" width="1.7" height="1.7"/><rect x="454.15" y="199.33" width="1.7" height="1.7"/><rect x="455.10" y="199.48" width="1.7" height="1.7"/><rect x="456.05" y="199.62" width="1.7" height="1.7"/><rect x="457.00" y="199.76" width="1.7" height="1.7"/><rect x="457.95" y="199.89" width="1.7" height="1.7"/><rect x="458.90" y="200.02" width="1.7" height="1.7"/><rect x="459.85" y="200.14" width="1.7" height="1.7"/><rect x="460.80" y="200.26" width="1.7" height="1.7"/><rect x="461.75" y="200.37" width="1.7" height="1.7"/><rect x="462.70" y="200.48" width="1.7" height="1.7"/><rect x="463.65" y="200.59" width="1.7" height="1.7"/><rect x="464.60" y="200.70" width="1.7" height="1.7"/><rect x="465.55" y="200.80" width="1.7" height="1.7"/><rect x="466.50" y="200.90" width="1.7" height="1.7"/><rect x="467.45" y="200.99" width="1.7" height="1.7"/><rect x="468.40" y="201.08" width="1.7" height="1.7"/><rect x="469.35" y="201.17" width="1.7" height="1.7"/><rect x="470.30" y="201.25" width="1.7" height="1.7"/><rect x="471.25" y="201.33" width="1.7" height="1.7"/><rect x="472.20" y="201.41" width="1.7" height="1.7"/><rect x="473.15" y="201.49" width="1.7" height="1.7"/><rect x="474.10" y="201.56" width="1.7" height="1.7"/><rect x="475.05" y="201.64" width="1.7" height="1.7"/><rect x="476.00" y="201.71" width="1.7" height="1.7"/><rect x="476.95" y="201.78" width="1.7" height="1.7"/><rect x="477.90" y="201.85" width="1.7" height="1.7"/><rect x="478.85" y="201.93" width="1.7" height="1.7"/><rect x="479.80" y="202.00" width="1.7" height="1.7"/><rect x="480.75" y="202.07" width="1.7" height="1.7"/><rect x="481.70" y="202.14" width="1.7" height="1.7"/><rect x="482.65" y="202.21" width="1.7" height="1.7"/><rect x="483.60" y="202.28" width="1.7" height="1.7"/><rect x="484.55" y="202.35" width="1.7" height="1.7"/><rect x="485.50" y="202.42" width="1.7" height="1.7"/><rect x="486.45" y="202.48" width="1.7" height="1.7"/><rect x="487.40" y="202.55" width="1.7" height="1.7"/><rect x="488.35" y="202.61" width="1.7" height="1.7"/><rect x="489.30" y="202.68" width="1.7" height="1.7"/><rect x="490.25" y="202.75" width="1.7" height="1.7"/><rect x="491.20" y="202.81" width="1.7" height="1.7"/><rect x="492.15" y="202.88" width="1.7" height="1.7"/><rect x="493.10" y="202.94" width="1.7" height="1.7"/><rect x="494.05" y="203.01" width="1.7" height="1.7"/><rect x="495.00" y="203.07" width="1.7" height="1.7"/><rect x="495.95" y="203.14" width="1.7" height="1.7"/><rect x="496.90" y="203.20" width="1.7" height="1.7"/><rect x="497.85" y="203.27" width="1.7" height="1.7"/><rect x="498.80" y="203.33" width="1.7" height="1.7"/><rect x="499.75" y="203.40" width="1.7" height="1.7"/><rect x="500.70" y="203.46" width="1.7" height="1.7"/><rect x="501.65" y="203.53" width="1.7" height="1.7"/><rect x="502.60" y="203.59" width="1.7" height="1.7"/><rect x="503.55" y="203.66" width="1.7" height="1.7"/><rect x="504.50" y="203.72" width="1.7" height="1.7"/><rect x="505.45" y="203.78" width="1.7" height="1.7"/><rect x="506.40" y="203.85" width="1.7" height="1.7"/><rect x="507.35" y="203.91" width="1.7" height="1.7"/><rect x="508.30" y="203.98" width="1.7" height="1.7"/><rect x="509.25" y="204.04" width="1.7" height="1.7"/><rect x="510.20" y="204.11" width="1.7" height="1.7"/><rect x="511.15" y="204.17" width="1.7" height="1.7"/><rect x="512.10" y="204.23" width="1.7" height="1.7"/><rect x="513.05" y="204.30" width="1.7" height="1.7"/><rect x="514.00" y="204.36" width="1.7" height="1.7"/><rect x="514.95" y="204.43" width="1.7" height="1.7"/><rect x="515.90" y="204.49" width="1.7" height="1.7"/><rect x="516.85" y="204.55" width="1.7" height="1.7"/><rect x="517.80" y="204.62" width="1.7" height="1.7"/><rect x="518.75" y="204.68" width="1.7" height="1.7"/><rect x="519.70" y="204.74" width="1.7" height="1.7"/><rect x="520.65" y="204.81" width="1.7" height="1.7"/><rect x="521.60" y="204.87" width="1.7" height="1.7"/><rect x="522.55" y="204.94" width="1.7" height="1.7"/></g>
<path d="M331.50,154.30 C333.15,155.08 338.15,155.98 341.40,159.00 C344.65,162.02 348.40,167.73 351.00,172.40 C353.60,177.07 354.95,182.32 357.00,187.00 C359.05,191.68 361.63,198.83 363.30,200.50 C364.97,202.17 365.80,198.92 367.00,197.00 C368.20,195.08 369.33,192.33 370.50,189.00 C371.67,185.67 372.83,180.83 374.00,177.00 C375.17,173.17 375.87,172.17 377.50,166.00 C379.13,159.83 381.92,148.67 383.80,140.00 C385.68,131.33 387.43,121.33 388.80,114.00 C390.17,106.67 391.13,101.67 392.00,96.00 C392.87,90.33 393.25,86.00 394.00,80.00 C394.75,74.00 395.87,65.40 396.50,60.00 C397.13,54.60 397.45,51.73 397.80,47.60 C398.15,43.47 398.32,38.85 398.60,35.20 C398.88,31.55 399.15,28.07 399.50,25.70 C399.85,23.33 400.18,22.18 400.70,21.00 C401.22,19.82 402.05,20.20 402.60,18.60 C403.15,17.00 403.60,12.75 404.00,11.40 C404.40,10.05 404.67,9.62 405.00,10.50 C405.33,11.38 405.60,15.20 406.00,16.70 C406.40,18.20 407.02,20.38 407.40,19.50 C407.78,18.62 407.98,12.98 408.30,11.40 C408.62,9.82 408.98,10.15 409.30,10.00 C409.62,9.85 409.83,9.78 410.20,10.50 C410.57,11.22 411.10,12.88 411.50,14.30 C411.90,15.72 412.33,17.57 412.60,19.00 C412.87,20.43 412.93,20.83 413.10,22.90 C413.27,24.97 413.28,29.18 413.60,31.40 C413.92,33.62 414.45,34.28 415.00,36.20 C415.55,38.12 416.35,41.00 416.90,42.90 C417.45,44.80 417.60,44.75 418.30,47.60 C419.00,50.45 420.23,55.60 421.10,60.00 C421.97,64.40 422.58,69.33 423.50,74.00 C424.42,78.67 425.68,84.00 426.60,88.00 C427.52,92.00 427.83,92.67 429.00,98.00 C430.17,103.33 431.92,113.57 433.60,120.00 C435.28,126.43 437.03,130.82 439.10,136.60 C441.17,142.38 443.23,149.38 446.00,154.70 C448.77,160.02 452.00,164.35 455.70,168.50 C459.40,172.65 464.15,176.82 468.20,179.60 C472.25,182.38 474.47,183.08 480.00,185.20 C485.53,187.32 494.13,190.32 501.40,192.30 C508.67,194.28 519.90,196.30 523.60,197.10" fill="none" stroke="#9a50c8" stroke-width="1.00" stroke-linejoin="round" stroke-linecap="round" />
<g fill="#6e1aa0"><circle cx="331.50" cy="154.30" r="1.25"/><circle cx="332.45" cy="154.67" r="1.25"/><circle cx="333.40" cy="154.98" r="1.25"/><circle cx="334.35" cy="155.29" r="1.25"/><circle cx="335.30" cy="155.61" r="1.25"/><circle cx="336.25" cy="155.97" r="1.25"/><circle cx="337.20" cy="156.36" r="1.25"/><circle cx="338.15" cy="156.81" r="1.25"/><circle cx="339.10" cy="157.32" r="1.25"/><circle cx="340.05" cy="157.92" r="1.25"/><circle cx="341.00" cy="158.65" r="1.25"/><circle cx="341.95" cy="159.53" r="1.25"/><circle cx="342.90" cy="160.54" r="1.25"/><circle cx="343.85" cy="161.64" r="1.25"/><circle cx="344.80" cy="162.84" r="1.25"/><circle cx="345.75" cy="164.11" r="1.25"/><circle cx="346.70" cy="165.45" r="1.25"/><circle cx="347.65" cy="166.86" r="1.25"/><circle cx="348.60" cy="168.34" r="1.25"/><circle cx="349.55" cy="169.89" r="1.25"/><circle cx="350.50" cy="171.51" r="1.25"/><circle cx="351.45" cy="173.24" r="1.25"/><circle cx="352.40" cy="175.20" r="1.25"/><circle cx="353.35" cy="177.45" r="1.25"/><circle cx="354.30" cy="179.95" r="1.25"/><circle cx="355.25" cy="182.55" r="1.25"/><circle cx="356.20" cy="185.07" r="1.25"/><circle cx="357.15" cy="187.34" r="1.25"/><circle cx="358.10" cy="189.60" r="1.25"/><circle cx="359.05" cy="191.91" r="1.25"/><circle cx="360.00" cy="194.19" r="1.25"/><circle cx="360.95" cy="196.37" r="1.25"/><circle cx="361.90" cy="198.34" r="1.25"/><circle cx="362.85" cy="199.95" r="1.25"/><circle cx="363.80" cy="200.87" r="1.25"/><circle cx="364.75" cy="200.75" r="1.25"/><circle cx="365.70" cy="199.47" r="1.25"/><circle cx="366.65" cy="197.61" r="1.25"/><circle cx="367.60" cy="195.96" r="1.25"/><circle cx="368.55" cy="194.02" r="1.25"/><circle cx="369.50" cy="191.72" r="1.25"/><circle cx="370.45" cy="189.14" r="1.25"/><circle cx="371.40" cy="186.17" r="1.25"/><circle cx="372.35" cy="182.83" r="1.25"/><circle cx="373.30" cy="179.40" r="1.25"/><circle cx="374.25" cy="176.20" r="1.25"/><circle cx="375.20" cy="173.43" r="1.25"/><circle cx="376.15" cy="170.67" r="1.25"/><circle cx="377.10" cy="167.48" r="1.25"/><circle cx="378.05" cy="163.90" r="1.25"/><circle cx="379.00" cy="160.19" r="1.25"/><circle cx="379.95" cy="156.40" r="1.25"/><circle cx="380.90" cy="152.53" r="1.25"/><circle cx="381.85" cy="148.56" r="1.25"/><circle cx="382.80" cy="144.48" r="1.25"/><circle cx="383.75" cy="140.23" r="1.25"/><circle cx="384.70" cy="135.72" r="1.25"/><circle cx="385.65" cy="130.93" r="1.25"/><circle cx="386.60" cy="125.93" r="1.25"/><circle cx="387.55" cy="120.79" r="1.25"/><circle cx="388.50" cy="115.62" r="1.25"/><circle cx="389.45" cy="110.52" r="1.25"/><circle cx="390.40" cy="105.40" r="1.25"/><circle cx="391.35" cy="100.03" r="1.25"/><circle cx="392.30" cy="93.96" r="1.25"/><circle cx="393.25" cy="86.35" r="1.25"/><circle cx="394.20" cy="78.41" r="1.25"/><circle cx="395.15" cy="70.91" r="1.25"/><circle cx="396.10" cy="63.32" r="1.25"/><circle cx="397.05" cy="55.22" r="1.25"/><circle cx="398.00" cy="44.93" r="1.25"/><circle cx="398.95" cy="30.82" r="1.25"/><circle cx="399.90" cy="23.47" r="1.25"/><circle cx="400.85" cy="20.71" r="1.25"/><circle cx="401.80" cy="19.83" r="1.25"/><circle cx="402.75" cy="18.09" r="1.25"/><circle cx="403.70" cy="12.81" r="1.25"/><circle cx="404.65" cy="10.05" r="1.25"/><circle cx="405.60" cy="14.34" r="1.25"/><circle cx="406.55" cy="18.57" r="1.25"/><circle cx="407.50" cy="19.15" r="1.25"/><circle cx="408.45" cy="10.80" r="1.25"/><circle cx="409.40" cy="9.96" r="1.25"/><circle cx="410.35" cy="10.82" r="1.25"/><circle cx="411.30" cy="13.61" r="1.25"/><circle cx="412.25" cy="17.30" r="1.25"/><circle cx="413.20" cy="24.70" r="1.25"/><circle cx="414.15" cy="33.73" r="1.25"/><circle cx="415.10" cy="36.55" r="1.25"/><circle cx="416.05" cy="39.91" r="1.25"/><circle cx="417.00" cy="43.24" r="1.25"/><circle cx="417.95" cy="46.24" r="1.25"/><circle cx="418.90" cy="50.08" r="1.25"/><circle cx="419.85" cy="54.15" r="1.25"/><circle cx="420.80" cy="58.52" r="1.25"/><circle cx="421.75" cy="63.62" r="1.25"/><circle cx="422.70" cy="69.50" r="1.25"/><circle cx="423.65" cy="74.75" r="1.25"/><circle cx="424.60" cy="79.24" r="1.25"/><circle cx="425.55" cy="83.44" r="1.25"/><circle cx="426.50" cy="87.56" r="1.25"/><circle cx="427.45" cy="91.50" r="1.25"/><circle cx="428.40" cy="95.34" r="1.25"/><circle cx="429.35" cy="99.66" r="1.25"/><circle cx="430.30" cy="104.45" r="1.25"/><circle cx="431.25" cy="109.31" r="1.25"/><circle cx="432.20" cy="113.97" r="1.25"/><circle cx="433.15" cy="118.20" r="1.25"/><circle cx="434.10" cy="121.85" r="1.25"/><circle cx="435.05" cy="125.04" r="1.25"/><circle cx="436.00" cy="127.94" r="1.25"/><circle cx="436.95" cy="130.66" r="1.25"/><circle cx="437.90" cy="133.28" r="1.25"/><circle cx="438.85" cy="135.90" r="1.25"/><circle cx="439.80" cy="138.60" r="1.25"/><circle cx="440.75" cy="141.38" r="1.25"/><circle cx="441.70" cy="144.16" r="1.25"/><circle cx="442.65" cy="146.83" r="1.25"/><circle cx="443.60" cy="149.34" r="1.25"/><circle cx="444.55" cy="151.64" r="1.25"/><circle cx="445.50" cy="153.71" r="1.25"/><circle cx="446.45" cy="155.55" r="1.25"/><circle cx="447.40" cy="157.24" r="1.25"/><circle cx="448.35" cy="158.82" r="1.25"/><circle cx="449.30" cy="160.29" r="1.25"/><circle cx="450.25" cy="161.68" r="1.25"/><circle cx="451.20" cy="163.00" r="1.25"/><circle cx="452.15" cy="164.25" r="1.25"/><circle cx="453.10" cy="165.45" r="1.25"/><circle cx="454.05" cy="166.60" r="1.25"/><circle cx="455.00" cy="167.71" r="1.25"/><circle cx="455.95" cy="168.78" r="1.25"/><circle cx="456.90" cy="169.81" r="1.25"/><circle cx="457.85" cy="170.80" r="1.25"/><circle cx="458.80" cy="171.75" r="1.25"/><circle cx="459.75" cy="172.67" r="1.25"/><circle cx="460.70" cy="173.55" r="1.25"/><circle cx="461.65" cy="174.41" r="1.25"/><circle cx="462.60" cy="175.24" r="1.25"/><circle cx="463.55" cy="176.05" r="1.25"/><circle cx="464.50" cy="176.83" r="1.25"/><circle cx="465.45" cy="177.58" r="1.25"/><circle cx="466.40" cy="178.31" r="1.25"/><circle cx="467.35" cy="179.00" r="1.25"/><circle cx="468.30" cy="179.67" r="1.25"/><circle cx="469.25" cy="180.30" r="1.25"/><circle cx="470.20" cy="180.90" r="1.25"/><circle cx="471.15" cy="181.45" r="1.25"/><circle cx="472.10" cy="181.96" r="1.25"/><circle cx="473.05" cy="182.42" r="1.25"/><circle cx="474.00" cy="182.85" r="1.25"/><circle cx="474.95" cy="183.25" r="1.25"/><circle cx="475.90" cy="183.63" r="1.25"/><circle cx="476.85" cy="184.00" r="1.25"/><circle cx="477.80" cy="184.36" r="1.25"/><circle cx="478.75" cy="184.72" r="1.25"/><circle cx="479.70" cy="185.09" r="1.25"/><circle cx="480.65" cy="185.45" r="1.25"/><circle cx="481.60" cy="185.80" r="1.25"/><circle cx="482.55" cy="186.16" r="1.25"/><circle cx="483.50" cy="186.51" r="1.25"/><circle cx="484.45" cy="186.85" r="1.25"/><circle cx="485.40" cy="187.19" r="1.25"/><circle cx="486.35" cy="187.53" r="1.25"/><circle cx="487.30" cy="187.86" r="1.25"/><circle cx="488.25" cy="188.19" r="1.25"/><circle cx="489.20" cy="188.51" r="1.25"/><circle cx="490.15" cy="188.83" r="1.25"/><circle cx="491.10" cy="189.15" r="1.25"/><circle cx="492.05" cy="189.46" r="1.25"/><circle cx="493.00" cy="189.77" r="1.25"/><circle cx="493.95" cy="190.08" r="1.25"/><circle cx="494.90" cy="190.38" r="1.25"/><circle cx="495.85" cy="190.68" r="1.25"/><circle cx="496.80" cy="190.97" r="1.25"/><circle cx="497.75" cy="191.25" r="1.25"/><circle cx="498.70" cy="191.54" r="1.25"/><circle cx="499.65" cy="191.81" r="1.25"/><circle cx="500.60" cy="192.08" r="1.25"/><circle cx="501.55" cy="192.34" r="1.25"/><circle cx="502.50" cy="192.59" r="1.25"/><circle cx="503.45" cy="192.84" r="1.25"/><circle cx="504.40" cy="193.07" r="1.25"/><circle cx="505.35" cy="193.30" r="1.25"/><circle cx="506.30" cy="193.52" r="1.25"/><circle cx="507.25" cy="193.74" r="1.25"/><circle cx="508.20" cy="193.95" r="1.25"/><circle cx="509.15" cy="194.16" r="1.25"/><circle cx="510.10" cy="194.36" r="1.25"/><circle cx="511.05" cy="194.57" r="1.25"/><circle cx="512.00" cy="194.77" r="1.25"/><circle cx="512.95" cy="194.96" r="1.25"/><circle cx="513.90" cy="195.16" r="1.25"/><circle cx="514.85" cy="195.35" r="1.25"/><circle cx="515.80" cy="195.54" r="1.25"/><circle cx="516.75" cy="195.73" r="1.25"/><circle cx="517.70" cy="195.92" r="1.25"/><circle cx="518.65" cy="196.11" r="1.25"/><circle cx="519.60" cy="196.29" r="1.25"/><circle cx="520.55" cy="196.48" r="1.25"/><circle cx="521.50" cy="196.67" r="1.25"/><circle cx="522.45" cy="196.86" r="1.25"/><circle cx="523.40" cy="197.06" r="1.25"/></g>
<path d="M331.50,161.00 C333.15,161.95 338.15,164.17 341.40,166.70 C344.65,169.23 348.13,172.08 351.00,176.20 C353.87,180.32 356.55,187.18 358.60,191.40 C360.65,195.62 361.90,200.32 363.30,201.50 C364.70,202.68 365.80,200.25 367.00,198.50 C368.20,196.75 369.42,193.75 370.50,191.00 C371.58,188.25 372.33,185.73 373.50,182.00 C374.67,178.27 375.75,175.12 377.50,168.60 C379.25,162.08 382.33,149.83 384.00,142.90 C385.67,135.97 386.45,132.15 387.50,127.00 C388.55,121.85 389.45,116.67 390.30,112.00 C391.15,107.33 391.85,104.33 392.60,99.00 C393.35,93.67 394.10,86.00 394.80,80.00 C395.50,74.00 396.17,68.33 396.80,63.00 C397.43,57.67 397.87,51.67 398.60,48.00 C399.33,44.33 400.22,42.97 401.20,41.00 C402.18,39.03 403.55,36.37 404.50,36.20 C405.45,36.03 406.18,38.10 406.90,40.00 C407.62,41.90 408.12,44.77 408.80,47.60 C409.48,50.43 410.00,52.43 411.00,57.00 C412.00,61.57 413.55,69.50 414.80,75.00 C416.05,80.50 417.47,85.50 418.50,90.00 C419.53,94.50 419.88,96.92 421.00,102.00 C422.12,107.08 423.57,114.50 425.20,120.50 C426.83,126.50 428.72,132.08 430.80,138.00 C432.88,143.92 435.17,150.92 437.70,156.00 C440.23,161.08 443.00,165.27 446.00,168.50 C449.00,171.73 452.00,173.32 455.70,175.40 C459.40,177.48 464.15,179.37 468.20,181.00 C472.25,182.63 474.70,183.78 480.00,185.20 C485.30,186.62 492.73,188.13 500.00,189.50 C507.27,190.87 519.67,192.75 523.60,193.40" fill="none" stroke="#7a3030" stroke-width="0.90" stroke-linejoin="round" stroke-linecap="round" />
<g fill="#ff1a1a"><path d="M331.50,159.30l1.8,3.1h-3.6z"/><path d="M332.45,159.81l1.8,3.1h-3.6z"/><path d="M333.40,160.29l1.8,3.1h-3.6z"/><path d="M334.35,160.78l1.8,3.1h-3.6z"/><path d="M335.30,161.27l1.8,3.1h-3.6z"/><path d="M336.25,161.77l1.8,3.1h-3.6z"/><path d="M337.20,162.29l1.8,3.1h-3.6z"/><path d="M338.15,162.84l1.8,3.1h-3.6z"/><path d="M339.10,163.41l1.8,3.1h-3.6z"/><path d="M340.05,164.03l1.8,3.1h-3.6z"/><path d="M341.00,164.70l1.8,3.1h-3.6z"/><path d="M341.95,165.43l1.8,3.1h-3.6z"/><path d="M342.90,166.18l1.8,3.1h-3.6z"/><path d="M343.85,166.96l1.8,3.1h-3.6z"/><path d="M344.80,167.76l1.8,3.1h-3.6z"/><path d="M345.75,168.61l1.8,3.1h-3.6z"/><path d="M346.70,169.50l1.8,3.1h-3.6z"/><path d="M347.65,170.45l1.8,3.1h-3.6z"/><path d="M348.60,171.47l1.8,3.1h-3.6z"/><path d="M349.55,172.58l1.8,3.1h-3.6z"/><path d="M350.50,173.80l1.8,3.1h-3.6z"/><path d="M351.45,175.17l1.8,3.1h-3.6z"/><path d="M352.40,176.73l1.8,3.1h-3.6z"/><path d="M353.35,178.48l1.8,3.1h-3.6z"/><path d="M354.30,180.37l1.8,3.1h-3.6z"/><path d="M355.25,182.37l1.8,3.1h-3.6z"/><path d="M356.20,184.45l1.8,3.1h-3.6z"/><path d="M357.15,186.57l1.8,3.1h-3.6z"/><path d="M358.10,188.65l1.8,3.1h-3.6z"/><path d="M359.05,190.66l1.8,3.1h-3.6z"/><path d="M360.00,192.88l1.8,3.1h-3.6z"/><path d="M360.95,195.28l1.8,3.1h-3.6z"/><path d="M361.90,197.56l1.8,3.1h-3.6z"/><path d="M362.85,199.30l1.8,3.1h-3.6z"/><path d="M363.80,200.08l1.8,3.1h-3.6z"/><path d="M364.75,199.85l1.8,3.1h-3.6z"/><path d="M365.70,198.79l1.8,3.1h-3.6z"/><path d="M366.65,197.33l1.8,3.1h-3.6z"/><path d="M367.60,195.83l1.8,3.1h-3.6z"/><path d="M368.55,193.96l1.8,3.1h-3.6z"/><path d="M369.50,191.79l1.8,3.1h-3.6z"/><path d="M370.45,189.43l1.8,3.1h-3.6z"/><path d="M371.40,186.86l1.8,3.1h-3.6z"/><path d="M372.35,183.98l1.8,3.1h-3.6z"/><path d="M373.30,180.94l1.8,3.1h-3.6z"/><path d="M374.25,177.93l1.8,3.1h-3.6z"/><path d="M375.20,174.91l1.8,3.1h-3.6z"/><path d="M376.15,171.74l1.8,3.1h-3.6z"/><path d="M377.10,168.37l1.8,3.1h-3.6z"/><path d="M378.05,164.83l1.8,3.1h-3.6z"/><path d="M379.00,161.19l1.8,3.1h-3.6z"/><path d="M379.95,157.48l1.8,3.1h-3.6z"/><path d="M380.90,153.74l1.8,3.1h-3.6z"/><path d="M381.85,149.95l1.8,3.1h-3.6z"/><path d="M382.80,146.12l1.8,3.1h-3.6z"/><path d="M383.75,142.24l1.8,3.1h-3.6z"/><path d="M384.70,138.25l1.8,3.1h-3.6z"/><path d="M385.65,134.09l1.8,3.1h-3.6z"/><path d="M386.60,129.68l1.8,3.1h-3.6z"/><path d="M387.55,125.05l1.8,3.1h-3.6z"/><path d="M388.50,120.18l1.8,3.1h-3.6z"/><path d="M389.45,115.01l1.8,3.1h-3.6z"/><path d="M390.40,109.75l1.8,3.1h-3.6z"/><path d="M391.35,104.78l1.8,3.1h-3.6z"/><path d="M392.30,99.33l1.8,3.1h-3.6z"/><path d="M393.25,92.18l1.8,3.1h-3.6z"/><path d="M394.20,83.66l1.8,3.1h-3.6z"/><path d="M395.15,75.30l1.8,3.1h-3.6z"/><path d="M396.10,67.22l1.8,3.1h-3.6z"/><path d="M397.05,59.08l1.8,3.1h-3.6z"/><path d="M398.00,50.21l1.8,3.1h-3.6z"/><path d="M398.95,44.76l1.8,3.1h-3.6z"/><path d="M399.90,41.94l1.8,3.1h-3.6z"/><path d="M400.85,39.99l1.8,3.1h-3.6z"/><path d="M401.80,38.12l1.8,3.1h-3.6z"/><path d="M402.75,36.41l1.8,3.1h-3.6z"/><path d="M403.70,35.07l1.8,3.1h-3.6z"/><path d="M404.65,34.49l1.8,3.1h-3.6z"/><path d="M405.60,35.30l1.8,3.1h-3.6z"/><path d="M406.55,37.37l1.8,3.1h-3.6z"/><path d="M407.50,40.25l1.8,3.1h-3.6z"/><path d="M408.45,44.39l1.8,3.1h-3.6z"/><path d="M409.40,48.37l1.8,3.1h-3.6z"/><path d="M410.35,52.39l1.8,3.1h-3.6z"/><path d="M411.30,56.69l1.8,3.1h-3.6z"/><path d="M412.25,61.25l1.8,3.1h-3.6z"/><path d="M413.20,65.85l1.8,3.1h-3.6z"/><path d="M414.15,70.36l1.8,3.1h-3.6z"/><path d="M415.10,74.60l1.8,3.1h-3.6z"/><path d="M416.05,78.49l1.8,3.1h-3.6z"/><path d="M417.00,82.23l1.8,3.1h-3.6z"/><path d="M417.95,85.99l1.8,3.1h-3.6z"/><path d="M418.90,90.09l1.8,3.1h-3.6z"/><path d="M419.85,94.75l1.8,3.1h-3.6z"/><path d="M420.80,99.38l1.8,3.1h-3.6z"/><path d="M421.75,103.79l1.8,3.1h-3.6z"/><path d="M422.70,108.26l1.8,3.1h-3.6z"/><path d="M423.65,112.54l1.8,3.1h-3.6z"/><path d="M424.60,116.51l1.8,3.1h-3.6z"/><path d="M425.55,120.07l1.8,3.1h-3.6z"/><path d="M426.50,123.33l1.8,3.1h-3.6z"/><path d="M427.45,126.39l1.8,3.1h-3.6z"/><path d="M428.40,129.31l1.8,3.1h-3.6z"/><path d="M429.35,132.13l1.8,3.1h-3.6z"/><path d="M430.30,134.87l1.8,3.1h-3.6z"/><path d="M431.25,137.58l1.8,3.1h-3.6z"/><path d="M432.20,140.32l1.8,3.1h-3.6z"/><path d="M433.15,143.03l1.8,3.1h-3.6z"/><path d="M434.10,145.66l1.8,3.1h-3.6z"/><path d="M435.05,148.18l1.8,3.1h-3.6z"/><path d="M436.00,150.55l1.8,3.1h-3.6z"/><path d="M436.95,152.73l1.8,3.1h-3.6z"/><path d="M437.90,154.70l1.8,3.1h-3.6z"/><path d="M438.85,156.52l1.8,3.1h-3.6z"/><path d="M439.80,158.21l1.8,3.1h-3.6z"/><path d="M440.75,159.80l1.8,3.1h-3.6z"/><path d="M441.70,161.28l1.8,3.1h-3.6z"/><path d="M442.65,162.66l1.8,3.1h-3.6z"/><path d="M443.60,163.95l1.8,3.1h-3.6z"/><path d="M444.55,165.14l1.8,3.1h-3.6z"/><path d="M445.50,166.25l1.8,3.1h-3.6z"/><path d="M446.45,167.27l1.8,3.1h-3.6z"/><path d="M447.40,168.19l1.8,3.1h-3.6z"/><path d="M448.35,169.02l1.8,3.1h-3.6z"/><path d="M449.30,169.77l1.8,3.1h-3.6z"/><path d="M450.25,170.45l1.8,3.1h-3.6z"/><path d="M451.20,171.08l1.8,3.1h-3.6z"/><path d="M452.15,171.67l1.8,3.1h-3.6z"/><path d="M453.10,172.23l1.8,3.1h-3.6z"/><path d="M454.05,172.77l1.8,3.1h-3.6z"/><path d="M455.00,173.31l1.8,3.1h-3.6z"/><path d="M455.95,173.84l1.8,3.1h-3.6z"/><path d="M456.90,174.35l1.8,3.1h-3.6z"/><path d="M457.85,174.84l1.8,3.1h-3.6z"/><path d="M458.80,175.30l1.8,3.1h-3.6z"/><path d="M459.75,175.74l1.8,3.1h-3.6z"/><path d="M460.70,176.18l1.8,3.1h-3.6z"/><path d="M461.65,176.60l1.8,3.1h-3.6z"/><path d="M462.60,177.00l1.8,3.1h-3.6z"/><path d="M463.55,177.41l1.8,3.1h-3.6z"/><path d="M464.50,177.80l1.8,3.1h-3.6z"/><path d="M465.45,178.19l1.8,3.1h-3.6z"/><path d="M466.40,178.57l1.8,3.1h-3.6z"/><path d="M467.35,178.96l1.8,3.1h-3.6z"/><path d="M468.30,179.34l1.8,3.1h-3.6z"/><path d="M469.25,179.73l1.8,3.1h-3.6z"/><path d="M470.20,180.12l1.8,3.1h-3.6z"/><path d="M471.15,180.50l1.8,3.1h-3.6z"/><path d="M472.10,180.89l1.8,3.1h-3.6z"/><path d="M473.05,181.26l1.8,3.1h-3.6z"/><path d="M474.00,181.62l1.8,3.1h-3.6z"/><path d="M474.95,181.96l1.8,3.1h-3.6z"/><path d="M475.90,182.28l1.8,3.1h-3.6z"/><path d="M476.85,182.59l1.8,3.1h-3.6z"/><path d="M477.80,182.88l1.8,3.1h-3.6z"/><path d="M478.75,183.16l1.8,3.1h-3.6z"/><path d="M479.70,183.42l1.8,3.1h-3.6z"/><path d="M480.65,183.67l1.8,3.1h-3.6z"/><path d="M481.60,183.91l1.8,3.1h-3.6z"/><path d="M482.55,184.15l1.8,3.1h-3.6z"/><path d="M483.50,184.38l1.8,3.1h-3.6z"/><path d="M484.45,184.60l1.8,3.1h-3.6z"/><path d="M485.40,184.82l1.8,3.1h-3.6z"/><path d="M486.35,185.04l1.8,3.1h-3.6z"/><path d="M487.30,185.25l1.8,3.1h-3.6z"/><path d="M488.25,185.45l1.8,3.1h-3.6z"/><path d="M489.20,185.66l1.8,3.1h-3.6z"/><path d="M490.15,185.86l1.8,3.1h-3.6z"/><path d="M491.10,186.05l1.8,3.1h-3.6z"/><path d="M492.05,186.25l1.8,3.1h-3.6z"/><path d="M493.00,186.44l1.8,3.1h-3.6z"/><path d="M493.95,186.63l1.8,3.1h-3.6z"/><path d="M494.90,186.82l1.8,3.1h-3.6z"/><path d="M495.85,187.01l1.8,3.1h-3.6z"/><path d="M496.80,187.19l1.8,3.1h-3.6z"/><path d="M497.75,187.37l1.8,3.1h-3.6z"/><path d="M498.70,187.55l1.8,3.1h-3.6z"/><path d="M499.65,187.73l1.8,3.1h-3.6z"/><path d="M500.60,187.91l1.8,3.1h-3.6z"/><path d="M501.55,188.09l1.8,3.1h-3.6z"/><path d="M502.50,188.26l1.8,3.1h-3.6z"/><path d="M503.45,188.42l1.8,3.1h-3.6z"/><path d="M504.40,188.59l1.8,3.1h-3.6z"/><path d="M505.35,188.75l1.8,3.1h-3.6z"/><path d="M506.30,188.91l1.8,3.1h-3.6z"/><path d="M507.25,189.07l1.8,3.1h-3.6z"/><path d="M508.20,189.23l1.8,3.1h-3.6z"/><path d="M509.15,189.39l1.8,3.1h-3.6z"/><path d="M510.10,189.54l1.8,3.1h-3.6z"/><path d="M511.05,189.70l1.8,3.1h-3.6z"/><path d="M512.00,189.85l1.8,3.1h-3.6z"/><path d="M512.95,190.00l1.8,3.1h-3.6z"/><path d="M513.90,190.16l1.8,3.1h-3.6z"/><path d="M514.85,190.31l1.8,3.1h-3.6z"/><path d="M515.80,190.46l1.8,3.1h-3.6z"/><path d="M516.75,190.61l1.8,3.1h-3.6z"/><path d="M517.70,190.76l1.8,3.1h-3.6z"/><path d="M518.65,190.91l1.8,3.1h-3.6z"/><path d="M519.60,191.06l1.8,3.1h-3.6z"/><path d="M520.55,191.21l1.8,3.1h-3.6z"/><path d="M521.50,191.36l1.8,3.1h-3.6z"/><path d="M522.45,191.51l1.8,3.1h-3.6z"/><path d="M523.40,191.67l1.8,3.1h-3.6z"/></g>
<text x="406.00" y="7.00" font-family="Liberation Serif" font-size="8.50" font-weight="normal" text-anchor="middle" fill="#333" >5</text>
<text x="404.50" y="33.20" font-family="Liberation Sans" font-size="9.50" font-weight="normal" text-anchor="middle" fill="#222" >4</text>
<text x="400.90" y="71.80" font-family="Liberation Serif" font-size="9.50" font-weight="normal" text-anchor="middle" fill="#222" >3</text>
<text x="404.90" y="127.00" font-family="Liberation Serif" font-size="9.50" font-weight="normal" text-anchor="middle" fill="#222" >2</text>
<text x="404.30" y="178.40" font-family="Liberation Serif" font-size="9.50" font-weight="normal" text-anchor="middle" fill="#222" >1</text>
<rect x="460.8" y="65.5" width="61.5" height="56.2" fill="#bbb"/>
<rect x="459.3" y="64.0" width="61.5" height="56.2" fill="#fff" stroke="#333" stroke-width="1"/>
<text x="469.70" y="74.10" font-family="Liberation Serif" font-size="9.20" font-weight="normal" text-anchor="middle" fill="#222" >1</text>
<line x1="479.00" y1="70.90" x2="485.00" y2="70.90" stroke="#9a9acc" stroke-width="1.60"/>
<text x="487.80" y="73.90" font-family="Liberation Sans" font-size="8.30" font-weight="normal" text-anchor="start" fill="#222" >0.001</text>
<text x="518.00" y="73.90" font-family="Liberation Sans" font-size="7.40" font-weight="bold" text-anchor="end" fill="#333" >M</text>
<text x="469.70" y="85.05" font-family="Liberation Serif" font-size="9.20" font-weight="normal" text-anchor="middle" fill="#222" >2</text>
<line x1="479.00" y1="81.85" x2="485.00" y2="81.85" stroke="#f0a0f0" stroke-width="1.60"/>
<text x="487.80" y="84.85" font-family="Liberation Sans" font-size="8.30" font-weight="normal" text-anchor="start" fill="#222" >0.003</text>
<text x="518.00" y="84.85" font-family="Liberation Sans" font-size="7.40" font-weight="bold" text-anchor="end" fill="#333" >M</text>
<text x="469.70" y="96.00" font-family="Liberation Serif" font-size="9.20" font-weight="normal" text-anchor="middle" fill="#222" >3</text>
<line x1="479.00" y1="92.80" x2="485.00" y2="92.80" stroke="#9c9" stroke-width="1.20"/>
<line x1="479" y1="92.80" x2="485" y2="92.80" stroke="#fff" stroke-width="1.4" stroke-dasharray="1 1.5"/>
<text x="487.80" y="95.80" font-family="Liberation Sans" font-size="8.30" font-weight="normal" text-anchor="start" fill="#222" >0.005</text>
<text x="518.00" y="95.80" font-family="Liberation Sans" font-size="7.40" font-weight="bold" text-anchor="end" fill="#333" >M</text>
<text x="469.70" y="106.95" font-family="Liberation Serif" font-size="9.20" font-weight="normal" text-anchor="middle" fill="#222" >4</text>
<line x1="476.50" y1="103.75" x2="484.80" y2="103.75" stroke="#444" stroke-width="1.40"/>
<text x="487.80" y="106.75" font-family="Liberation Sans" font-size="8.30" font-weight="normal" text-anchor="start" fill="#222" >0.007</text>
<text x="518.00" y="106.75" font-family="Liberation Sans" font-size="7.40" font-weight="bold" text-anchor="end" fill="#333" >M</text>
<text x="469.70" y="117.90" font-family="Liberation Serif" font-size="9.20" font-weight="normal" text-anchor="middle" fill="#222" >5</text>
<line x1="479.00" y1="114.70" x2="485.00" y2="114.70" stroke="#d0a0d0" stroke-width="1.60"/>
<text x="487.80" y="117.70" font-family="Liberation Sans" font-size="8.30" font-weight="normal" text-anchor="start" fill="#222" >0.009</text>
<text x="518.00" y="117.70" font-family="Liberation Sans" font-size="7.40" font-weight="bold" text-anchor="end" fill="#333" >M</text>
<line x1="42.40" y1="286.80" x2="42.40" y2="528.80" stroke="#707070" stroke-width="1.10"/>
<line x1="42.40" y1="528.80" x2="200.20" y2="528.80" stroke="#707070" stroke-width="1.10"/>
<line x1="39.20" y1="528.80" x2="42.40" y2="528.80" stroke="#707070" stroke-width="1.00"/>
<text x="35.00" y="532.20" font-family="Liberation Serif" font-size="10.00" font-weight="bold" text-anchor="end" fill="#333" >0</text>
<line x1="39.20" y1="491.70" x2="42.40" y2="491.70" stroke="#707070" stroke-width="1.00"/>
<text x="35.00" y="495.10" font-family="Liberation Serif" font-size="10.00" font-weight="bold" text-anchor="end" fill="#333" >0.5</text>
<line x1="39.20" y1="454.60" x2="42.40" y2="454.60" stroke="#707070" stroke-width="1.00"/>
<text x="35.00" y="458.00" font-family="Liberation Serif" font-size="10.00" font-weight="bold" text-anchor="end" fill="#333" >1</text>
<line x1="39.20" y1="417.50" x2="42.40" y2="417.50" stroke="#707070" stroke-width="1.00"/>
<text x="35.00" y="420.90" font-family="Liberation Serif" font-size="10.00" font-weight="bold" text-anchor="end" fill="#333" >1.5</text>
<line x1="39.20" y1="380.40" x2="42.40" y2="380.40" stroke="#707070" stroke-width="1.00"/>
<text x="35.00" y="383.80" font-family="Liberation Serif" font-size="10.00" font-weight="bold" text-anchor="end" fill="#333" >2</text>
<line x1="39.20" y1="343.30" x2="42.40" y2="343.30" stroke="#707070" stroke-width="1.00"/>
<text x="35.00" y="346.70" font-family="Liberation Serif" font-size="10.00" font-weight="bold" text-anchor="end" fill="#333" >2.5</text>
<line x1="39.20" y1="306.20" x2="42.40" y2="306.20" stroke="#707070" stroke-width="1.00"/>
<text x="35.00" y="309.60" font-family="Liberation Serif" font-size="10.00" font-weight="bold" text-anchor="end" fill="#333" >3</text>
<line x1="42.40" y1="528.80" x2="42.40" y2="531.80" stroke="#707070" stroke-width="1.00"/>
<line x1="61.30" y1="528.80" x2="61.30" y2="531.20" stroke="#707070" stroke-width="1.00"/>
<text x="61.30" y="543.60" font-family="Liberation Sans" font-size="9.30" font-weight="normal" text-anchor="middle" fill="#444" >300</text>
<line x1="102.95" y1="528.80" x2="102.95" y2="531.20" stroke="#707070" stroke-width="1.00"/>
<text x="102.95" y="543.60" font-family="Liberation Sans" font-size="9.30" font-weight="normal" text-anchor="middle" fill="#444" >400</text>
<line x1="144.60" y1="528.80" x2="144.60" y2="531.20" stroke="#707070" stroke-width="1.00"/>
<text x="144.60" y="543.60" font-family="Liberation Sans" font-size="9.30" font-weight="normal" text-anchor="middle" fill="#444" >500</text>
<line x1="186.25" y1="528.80" x2="186.25" y2="531.20" stroke="#707070" stroke-width="1.00"/>
<text x="186.25" y="543.60" font-family="Liberation Sans" font-size="9.30" font-weight="normal" text-anchor="middle" fill="#444" >600</text>
<text x="0.00" y="0.00" font-family="Liberation Serif" font-size="10.00" font-weight="bold" text-anchor="middle" fill="#333" transform="translate(19.6,407.5) rotate(-90)" letter-spacing="1.15" stroke="#333" stroke-width="0.2">Absorbance</text>
<text x="86.20" y="554.50" font-family="Liberation Serif" font-size="9.90" font-weight="bold" text-anchor="start" fill="#222" letter-spacing="0.7" stroke="#222" stroke-width="0.2">Wavelength (nm)</text>
<text x="129.20" y="573.50" font-family="Liberation Serif" font-size="14.50" font-weight="normal" text-anchor="middle" fill="#111" >(c)</text>
<path d="M43.50,507.60 C44.82,507.38 48.82,506.17 51.40,506.30 C53.98,506.43 56.90,507.57 59.00,508.40 C61.10,509.23 62.40,510.40 64.00,511.30 C65.60,512.20 67.10,514.02 68.60,513.80 C70.10,513.58 71.42,511.50 73.00,510.00 C74.58,508.50 76.27,506.22 78.10,504.80 C79.93,503.38 82.10,502.47 84.00,501.50 C85.90,500.53 87.50,499.92 89.50,499.00 C91.50,498.08 94.25,496.63 96.00,496.00 C97.75,495.37 97.67,495.37 100.00,495.20 C102.33,495.03 105.00,494.98 110.00,495.00 C115.00,495.02 121.67,495.05 130.00,495.30 C138.33,495.55 148.42,496.00 160.00,496.50 C171.58,497.00 192.92,498.00 199.50,498.30" fill="none" stroke="#2a35c0" stroke-width="1.00" stroke-linejoin="round" stroke-linecap="round" />
<path d="M43.50,493.30 C44.82,493.93 48.82,495.18 51.40,497.10 C53.98,499.02 56.82,502.15 59.00,504.80 C61.18,507.45 62.58,510.50 64.50,513.00 C66.42,515.50 68.92,518.92 70.50,519.80 C72.08,520.68 72.73,519.27 74.00,518.30 C75.27,517.33 76.60,516.55 78.10,514.00 C79.60,511.45 81.42,507.40 83.00,503.00 C84.58,498.60 85.88,493.77 87.60,487.60 C89.32,481.43 91.78,472.02 93.30,466.00 C94.82,459.98 95.55,456.17 96.70,451.50 C97.85,446.83 99.05,441.92 100.20,438.00 C101.35,434.08 102.45,430.75 103.60,428.00 C104.75,425.25 106.12,423.07 107.10,421.50 C108.08,419.93 108.68,419.20 109.50,418.60 C110.32,418.00 111.17,417.83 112.00,417.90 C112.83,417.97 113.65,418.05 114.50,419.00 C115.35,419.95 116.27,421.77 117.10,423.60 C117.93,425.43 118.70,427.60 119.50,430.00 C120.30,432.40 120.65,433.38 121.90,438.00 C123.15,442.62 125.00,450.70 127.00,457.70 C129.00,464.70 131.62,474.00 133.90,480.00 C136.18,486.00 138.13,490.27 140.70,493.70 C143.27,497.13 145.58,498.35 149.30,500.60 C153.02,502.85 157.88,505.63 163.00,507.20 C168.12,508.77 173.92,509.28 180.00,510.00 C186.08,510.72 196.25,511.25 199.50,511.50" fill="none" stroke="#ff3cff" stroke-width="1.00" stroke-linejoin="round" stroke-linecap="round" />
<path d="M43.50,481.00 C44.82,481.78 48.82,483.33 51.40,485.70 C53.98,488.07 56.82,491.82 59.00,495.20 C61.18,498.58 62.75,502.73 64.50,506.00 C66.25,509.27 67.92,513.97 69.50,514.80 C71.08,515.63 72.58,513.63 74.00,511.00 C75.42,508.37 76.50,503.67 78.00,499.00 C79.50,494.33 81.33,488.50 83.00,483.00 C84.67,477.50 86.28,472.50 88.00,466.00 C89.72,459.50 91.73,451.17 93.30,444.00 C94.87,436.83 96.12,429.83 97.40,423.00 C98.68,416.17 99.82,409.33 101.00,403.00 C102.18,396.67 103.50,390.17 104.50,385.00 C105.50,379.83 106.25,375.08 107.00,372.00 C107.75,368.92 108.37,367.62 109.00,366.50 C109.63,365.38 110.20,365.13 110.80,365.30 C111.40,365.47 111.90,365.55 112.60,367.50 C113.30,369.45 114.08,372.75 115.00,377.00 C115.92,381.25 117.18,388.00 118.10,393.00 C119.02,398.00 119.73,402.50 120.50,407.00 C121.27,411.50 121.62,414.33 122.70,420.00 C123.78,425.67 125.43,433.85 127.00,441.00 C128.57,448.15 130.10,455.65 132.10,462.90 C134.10,470.15 136.13,478.73 139.00,484.50 C141.87,490.27 144.73,494.00 149.30,497.50 C153.87,501.00 160.97,503.58 166.40,505.50 C171.83,507.42 176.38,508.17 181.90,509.00 C187.42,509.83 196.57,510.25 199.50,510.50" fill="none" stroke="#9a48b8" stroke-width="1.00" stroke-linejoin="round" stroke-linecap="round" />
<path d="M43.50,475.20 C44.82,476.00 48.82,477.62 51.40,480.00 C53.98,482.38 56.82,485.83 59.00,489.50 C61.18,493.17 62.75,498.12 64.50,502.00 C66.25,505.88 67.92,512.22 69.50,512.80 C71.08,513.38 72.57,508.75 74.00,505.50 C75.43,502.25 76.77,497.55 78.10,493.30 C79.43,489.05 80.87,483.88 82.00,480.00 C83.13,476.12 83.72,474.50 84.90,470.00 C86.08,465.50 87.70,458.67 89.10,453.00 C90.50,447.33 91.92,442.33 93.30,436.00 C94.68,429.67 96.28,421.00 97.40,415.00 C98.52,409.00 99.08,405.35 100.00,400.00 C100.92,394.65 101.95,387.98 102.90,382.90 C103.85,377.82 104.80,372.78 105.70,369.50 C106.60,366.22 107.42,364.55 108.30,363.20 C109.18,361.85 110.13,361.43 111.00,361.40 C111.87,361.37 112.80,361.97 113.50,363.00 C114.20,364.03 114.62,365.43 115.20,367.60 C115.78,369.77 116.37,372.68 117.00,376.00 C117.63,379.32 118.17,383.00 119.00,387.50 C119.83,392.00 121.00,397.92 122.00,403.00 C123.00,408.08 124.02,413.50 125.00,418.00 C125.98,422.50 126.98,426.67 127.90,430.00 C128.82,433.33 129.50,435.17 130.50,438.00 C131.50,440.83 132.20,443.00 133.90,447.00 C135.60,451.00 138.13,457.07 140.70,462.00 C143.27,466.93 145.87,472.45 149.30,476.60 C152.73,480.75 157.02,484.05 161.30,486.90 C165.58,489.75 168.63,491.18 175.00,493.70 C181.37,496.22 195.42,500.62 199.50,502.00" fill="none" stroke="#4a62f0" stroke-width="1.05" stroke-linejoin="round" stroke-linecap="round" />
<path d="M43.50,461.90 C44.82,463.02 48.82,465.58 51.40,468.60 C53.98,471.62 56.82,475.60 59.00,480.00 C61.18,484.40 62.58,490.08 64.50,495.00 C66.42,499.92 68.75,508.17 70.50,509.50 C72.25,510.83 73.75,505.75 75.00,503.00 C76.25,500.25 77.03,496.67 78.00,493.00 C78.97,489.33 79.65,486.00 80.80,481.00 C81.95,476.00 83.52,469.50 84.90,463.00 C86.28,456.50 87.70,449.00 89.10,442.00 C90.50,435.00 92.03,427.83 93.30,421.00 C94.57,414.17 95.67,407.83 96.70,401.00 C97.73,394.17 98.70,386.83 99.50,380.00 C100.30,373.17 100.83,366.67 101.50,360.00 C102.17,353.33 102.63,346.98 103.50,340.00 C104.37,333.02 105.78,323.27 106.70,318.10 C107.62,312.93 108.12,311.07 109.00,309.00 C109.88,306.93 111.13,305.70 112.00,305.70 C112.87,305.70 113.50,306.93 114.20,309.00 C114.90,311.07 115.48,314.43 116.20,318.10 C116.92,321.77 117.78,326.68 118.50,331.00 C119.22,335.32 119.83,339.17 120.50,344.00 C121.17,348.83 121.78,354.50 122.50,360.00 C123.22,365.50 123.95,371.17 124.80,377.00 C125.65,382.83 126.52,388.17 127.60,395.00 C128.68,401.83 130.18,411.83 131.30,418.00 C132.42,424.17 133.30,427.47 134.30,432.00 C135.30,436.53 135.67,439.28 137.30,445.20 C138.93,451.12 141.25,461.17 144.10,467.50 C146.95,473.83 150.10,478.83 154.40,483.20 C158.70,487.57 165.03,490.95 169.90,493.70 C174.77,496.45 178.67,497.83 183.60,499.70 C188.53,501.57 196.85,504.03 199.50,504.90" fill="none" stroke="#993838" stroke-width="1.00" stroke-linejoin="round" stroke-linecap="round" />
<path d="M43.50,455.20 C44.82,456.48 48.82,459.40 51.40,462.90 C53.98,466.40 56.77,470.82 59.00,476.20 C61.23,481.58 62.88,489.53 64.80,495.20 C66.72,500.87 68.97,508.40 70.50,510.20 C72.03,512.00 73.00,507.70 74.00,506.00 C75.00,504.30 75.58,503.00 76.50,500.00 C77.42,497.00 78.50,492.33 79.50,488.00 C80.50,483.67 81.50,478.50 82.50,474.00 C83.50,469.50 84.40,466.17 85.50,461.00 C86.60,455.83 87.85,449.17 89.10,443.00 C90.35,436.83 91.73,430.83 93.00,424.00 C94.27,417.17 95.70,409.33 96.70,402.00 C97.70,394.67 98.28,387.00 99.00,380.00 C99.72,373.00 100.35,366.18 101.00,360.00 C101.65,353.82 102.12,349.88 102.90,342.90 C103.68,335.92 104.75,325.42 105.70,318.10 C106.65,310.78 107.68,304.02 108.60,299.00 C109.52,293.98 110.25,290.60 111.20,288.00 C112.15,285.40 113.33,283.82 114.30,283.40 C115.27,282.98 116.22,284.17 117.00,285.50 C117.78,286.83 118.33,288.65 119.00,291.40 C119.67,294.15 120.35,297.87 121.00,302.00 C121.65,306.13 122.20,311.53 122.90,316.20 C123.60,320.87 124.42,325.55 125.20,330.00 C125.98,334.45 126.72,337.73 127.60,342.90 C128.48,348.07 129.55,354.82 130.50,361.00 C131.45,367.18 132.30,373.50 133.30,380.00 C134.30,386.50 135.40,393.67 136.50,400.00 C137.60,406.33 138.33,411.08 139.90,418.00 C141.47,424.92 143.77,434.08 145.90,441.50 C148.03,448.92 150.13,456.17 152.70,462.50 C155.27,468.83 158.15,474.67 161.30,479.50 C164.45,484.33 167.88,488.33 171.60,491.50 C175.32,494.67 178.95,496.55 183.60,498.50 C188.25,500.45 196.85,502.42 199.50,503.20" fill="none" stroke="#f04040" stroke-width="0.95" stroke-linejoin="round" stroke-linecap="round" />
<text x="113.90" y="304.40" font-family="Liberation Serif" font-size="9.50" font-weight="normal" text-anchor="middle" fill="#333" >5</text>
<text x="111.00" y="357.60" font-family="Liberation Sans" font-size="9.50" font-weight="normal" text-anchor="middle" fill="#222" >4</text>
<text x="110.20" y="370.60" font-family="Liberation Serif" font-size="9.50" font-weight="normal" text-anchor="middle" fill="#222" >3</text>
<text x="112.00" y="415.50" font-family="Liberation Sans" font-size="9.50" font-weight="bold" text-anchor="middle" fill="#333" >2</text>
<text x="112.00" y="488.00" font-family="Liberation Serif" font-size="9.50" font-weight="normal" text-anchor="middle" fill="#333" >1</text>
<rect x="160.0" y="338.2" width="79.0" height="68.0" fill="#fff" stroke="#111" stroke-width="1.6"/>
<text x="165.80" y="351.60" font-family="Liberation Serif" font-size="9.30" font-weight="normal" text-anchor="start" fill="#3a3a3a" textLength="57.0" lengthAdjust="spacingAndGlyphs">1 Without PV A</text>
<text x="165.80" y="361.90" font-family="Liberation Serif" font-size="9.30" font-weight="normal" text-anchor="start" fill="#3a3a3a" textLength="67.8" lengthAdjust="spacingAndGlyphs">2 With 0.5 % PV A</text>
<text x="165.80" y="372.20" font-family="Liberation Serif" font-size="9.30" font-weight="normal" text-anchor="start" fill="#3a3a3a" textLength="67.8" lengthAdjust="spacingAndGlyphs">3 With 1.0 % PV A</text>
<text x="165.80" y="382.50" font-family="Liberation Serif" font-size="9.30" font-weight="normal" text-anchor="start" fill="#3a3a3a" textLength="70.6" lengthAdjust="spacingAndGlyphs">4 With 015 % PV A</text>
<text x="165.80" y="392.80" font-family="Liberation Serif" font-size="9.30" font-weight="normal" text-anchor="start" fill="#3a3a3a" textLength="67.8" lengthAdjust="spacingAndGlyphs">5 With 2.0 % PV A</text>
<text x="165.80" y="403.10" font-family="Liberation Serif" font-size="9.30" font-weight="normal" text-anchor="start" fill="#3a3a3a" textLength="67.8" lengthAdjust="spacingAndGlyphs">6 With 2.5 % PV A</text>
<line x1="351.40" y1="314.00" x2="351.40" y2="525.50" stroke="#3a3a3a" stroke-width="1.10"/>
<line x1="351.40" y1="525.50" x2="500.20" y2="525.50" stroke="#3a3a3a" stroke-width="1.10"/>
<line x1="348.20" y1="525.50" x2="351.40" y2="525.50" stroke="#3a3a3a" stroke-width="1.00"/>
<text transform="translate(343.50,529.10) scale(0.900,1)" font-family="Liberation Sans" font-size="10.00" font-weight="normal" text-anchor="end" fill="#555" >0</text>
<line x1="348.20" y1="504.40" x2="351.40" y2="504.40" stroke="#3a3a3a" stroke-width="1.00"/>
<text transform="translate(343.50,508.00) scale(0.900,1)" font-family="Liberation Sans" font-size="10.00" font-weight="normal" text-anchor="end" fill="#555" >0.2</text>
<line x1="348.20" y1="483.30" x2="351.40" y2="483.30" stroke="#3a3a3a" stroke-width="1.00"/>
<text transform="translate(343.50,486.90) scale(0.900,1)" font-family="Liberation Sans" font-size="10.00" font-weight="normal" text-anchor="end" fill="#555" >0.4</text>
<line x1="348.20" y1="462.20" x2="351.40" y2="462.20" stroke="#3a3a3a" stroke-width="1.00"/>
<text transform="translate(343.50,465.80) scale(0.900,1)" font-family="Liberation Sans" font-size="10.00" font-weight="normal" text-anchor="end" fill="#555" >0.6</text>
<line x1="348.20" y1="441.10" x2="351.40" y2="441.10" stroke="#3a3a3a" stroke-width="1.00"/>
<text transform="translate(343.50,444.70) scale(0.900,1)" font-family="Liberation Sans" font-size="10.00" font-weight="normal" text-anchor="end" fill="#555" >0.8</text>
<line x1="348.20" y1="420.00" x2="351.40" y2="420.00" stroke="#3a3a3a" stroke-width="1.00"/>
<text transform="translate(343.50,423.60) scale(0.900,1)" font-family="Liberation Sans" font-size="10.00" font-weight="normal" text-anchor="end" fill="#555" >1</text>
<line x1="348.20" y1="398.90" x2="351.40" y2="398.90" stroke="#3a3a3a" stroke-width="1.00"/>
<text transform="translate(343.50,402.50) scale(0.900,1)" font-family="Liberation Sans" font-size="10.00" font-weight="normal" text-anchor="end" fill="#555" >1.2</text>
<line x1="348.20" y1="377.80" x2="351.40" y2="377.80" stroke="#3a3a3a" stroke-width="1.00"/>
<text transform="translate(343.50,381.40) scale(0.900,1)" font-family="Liberation Sans" font-size="10.00" font-weight="normal" text-anchor="end" fill="#555" >1.4</text>
<line x1="348.20" y1="356.70" x2="351.40" y2="356.70" stroke="#3a3a3a" stroke-width="1.00"/>
<text transform="translate(343.50,360.30) scale(0.900,1)" font-family="Liberation Sans" font-size="10.00" font-weight="normal" text-anchor="end" fill="#555" >1.6</text>
<line x1="348.20" y1="335.60" x2="351.40" y2="335.60" stroke="#3a3a3a" stroke-width="1.00"/>
<text transform="translate(343.50,339.20) scale(0.900,1)" font-family="Liberation Sans" font-size="10.00" font-weight="normal" text-anchor="end" fill="#555" >1.8</text>
<line x1="348.20" y1="314.50" x2="351.40" y2="314.50" stroke="#3a3a3a" stroke-width="1.00"/>
<text transform="translate(343.50,318.10) scale(0.900,1)" font-family="Liberation Sans" font-size="10.00" font-weight="normal" text-anchor="end" fill="#555" >2</text>
<line x1="351.40" y1="525.50" x2="351.40" y2="528.40" stroke="#3a3a3a" stroke-width="1.00"/>
<line x1="367.30" y1="525.50" x2="367.30" y2="527.80" stroke="#3a3a3a" stroke-width="1.00"/>
<text x="367.30" y="542.70" font-family="Liberation Sans" font-size="10.00" font-weight="normal" text-anchor="middle" fill="#666" >300</text>
<line x1="405.50" y1="525.50" x2="405.50" y2="527.80" stroke="#3a3a3a" stroke-width="1.00"/>
<text x="405.50" y="542.70" font-family="Liberation Sans" font-size="10.00" font-weight="normal" text-anchor="middle" fill="#666" >400</text>
<line x1="443.70" y1="525.50" x2="443.70" y2="527.80" stroke="#3a3a3a" stroke-width="1.00"/>
<text x="443.70" y="542.70" font-family="Liberation Sans" font-size="10.00" font-weight="normal" text-anchor="middle" fill="#666" >500</text>
<line x1="481.90" y1="525.50" x2="481.90" y2="527.80" stroke="#3a3a3a" stroke-width="1.00"/>
<text x="481.90" y="542.70" font-family="Liberation Sans" font-size="10.00" font-weight="normal" text-anchor="middle" fill="#666" >600</text>
<text x="0.00" y="0.00" font-family="Liberation Sans" font-size="8.60" font-weight="bold" text-anchor="middle" fill="#222" transform="translate(323.8,420.1) rotate(-90)" letter-spacing="0.5" stroke="#222" stroke-width="0.15">Absorbance</text>
<text x="375.80" y="555.20" font-family="Liberation Sans" font-size="8.80" font-weight="bold" text-anchor="start" fill="#222" letter-spacing="0.5" stroke="#222" stroke-width="0.2">Wavelength (nm)</text>
<text x="417.00" y="573.50" font-family="Liberation Serif" font-size="14.50" font-weight="normal" text-anchor="middle" fill="#111" >(d)</text>
<path d="M353.40,491.10 C354.25,491.58 356.47,492.78 358.50,494.00 C360.53,495.22 363.68,496.57 365.60,498.40 C367.52,500.23 368.60,502.73 370.00,505.00 C371.40,507.27 372.87,510.23 374.00,512.00 C375.13,513.77 375.88,515.27 376.80,515.60 C377.72,515.93 378.38,515.68 379.50,514.00 C380.62,512.32 382.25,508.67 383.50,505.50 C384.75,502.33 385.83,498.38 387.00,495.00 C388.17,491.62 389.42,488.20 390.50,485.20 C391.58,482.20 392.47,479.50 393.50,477.00 C394.53,474.50 395.78,473.20 396.70,470.20 C397.62,467.20 398.27,462.47 399.00,459.00 C399.73,455.53 400.43,452.07 401.10,449.40 C401.77,446.73 402.28,445.03 403.00,443.00 C403.72,440.97 404.57,438.65 405.40,437.20 C406.23,435.75 407.18,434.93 408.00,434.30 C408.82,433.67 409.47,433.20 410.30,433.40 C411.13,433.60 412.08,434.28 413.00,435.50 C413.92,436.72 414.88,438.70 415.80,440.70 C416.72,442.70 417.63,445.18 418.50,447.50 C419.37,449.82 420.17,452.43 421.00,454.60 C421.83,456.77 422.63,458.48 423.50,460.50 C424.37,462.52 425.28,464.62 426.20,466.70 C427.12,468.78 427.98,470.78 429.00,473.00 C430.02,475.22 431.13,478.00 432.30,480.00 C433.47,482.00 434.87,483.43 436.00,485.00 C437.13,486.57 437.27,487.82 439.10,489.40 C440.93,490.98 444.23,492.93 447.00,494.50 C449.77,496.07 452.53,497.47 455.70,498.80 C458.87,500.13 462.53,501.47 466.00,502.50 C469.47,503.53 473.00,504.17 476.50,505.00 C480.00,505.83 483.18,506.63 487.00,507.50 C490.82,508.37 497.33,509.75 499.40,510.20" fill="none" stroke="#a83a3a" stroke-width="1.00" stroke-linejoin="round" stroke-linecap="round" />
<path d="M353.40,480.20 C354.25,480.83 356.47,481.62 358.50,484.00 C360.53,486.38 363.60,491.17 365.60,494.50 C367.60,497.83 369.10,501.33 370.50,504.00 C371.90,506.67 372.95,509.03 374.00,510.50 C375.05,511.97 375.88,512.80 376.80,512.80 C377.72,512.80 378.47,512.13 379.50,510.50 C380.53,508.87 381.75,506.58 383.00,503.00 C384.25,499.42 385.83,493.83 387.00,489.00 C388.17,484.17 389.08,478.50 390.00,474.00 C390.92,469.50 391.38,466.40 392.50,462.00 C393.62,457.60 395.42,454.03 396.70,447.60 C397.98,441.17 399.23,430.00 400.20,423.40 C401.17,416.80 401.78,412.35 402.50,408.00 C403.22,403.65 403.75,400.13 404.50,397.30 C405.25,394.47 406.03,392.30 407.00,391.00 C407.97,389.70 409.42,389.33 410.30,389.50 C411.18,389.67 411.67,390.40 412.30,392.00 C412.93,393.60 413.43,396.60 414.10,399.10 C414.77,401.60 415.58,404.40 416.30,407.00 C417.02,409.60 417.70,411.70 418.40,414.70 C419.10,417.70 419.78,421.53 420.50,425.00 C421.22,428.47 421.87,432.00 422.70,435.50 C423.53,439.00 424.48,442.53 425.50,446.00 C426.52,449.47 427.63,453.13 428.80,456.30 C429.97,459.47 431.20,462.12 432.50,465.00 C433.80,467.88 434.85,470.93 436.60,473.60 C438.35,476.27 440.50,478.72 443.00,481.00 C445.50,483.28 448.60,485.38 451.60,487.30 C454.60,489.22 457.53,490.93 461.00,492.50 C464.47,494.07 468.40,495.37 472.40,496.70 C476.40,498.03 480.85,499.28 485.00,500.50 C489.15,501.72 495.25,503.42 497.30,504.00" fill="none" stroke="#ff33ff" stroke-width="1.10" stroke-linejoin="round" stroke-linecap="round" />
<path d="M353.40,473.50 C354.25,474.25 356.47,475.25 358.50,478.00 C360.53,480.75 363.60,486.17 365.60,490.00 C367.60,493.83 369.10,497.92 370.50,501.00 C371.90,504.08 372.95,506.62 374.00,508.50 C375.05,510.38 375.88,511.97 376.80,512.30 C377.72,512.63 378.47,512.22 379.50,510.50 C380.53,508.78 381.75,506.25 383.00,502.00 C384.25,497.75 385.83,490.83 387.00,485.00 C388.17,479.17 389.15,472.50 390.00,467.00 C390.85,461.50 391.27,457.67 392.10,452.00 C392.93,446.33 393.92,439.67 395.00,433.00 C396.08,426.33 397.63,417.50 398.60,412.00 C399.57,406.50 400.02,405.00 400.80,400.00 C401.58,395.00 402.40,388.00 403.30,382.00 C404.20,376.00 405.37,368.00 406.20,364.00 C407.03,360.00 407.60,359.30 408.30,358.00 C409.00,356.70 409.70,356.12 410.40,356.20 C411.10,356.28 411.77,356.87 412.50,358.50 C413.23,360.13 413.97,362.42 414.80,366.00 C415.63,369.58 416.47,373.92 417.50,380.00 C418.53,386.08 420.00,396.50 421.00,402.50 C422.00,408.50 422.63,411.37 423.50,416.00 C424.37,420.63 425.28,425.97 426.20,430.30 C427.12,434.63 427.98,438.25 429.00,442.00 C430.02,445.75 431.13,449.63 432.30,452.80 C433.47,455.97 434.70,458.40 436.00,461.00 C437.30,463.60 438.27,465.43 440.10,468.40 C441.93,471.37 444.40,475.65 447.00,478.80 C449.60,481.95 452.53,485.02 455.70,487.30 C458.87,489.58 462.53,491.12 466.00,492.50 C469.47,493.88 473.00,494.60 476.50,495.60 C480.00,496.60 483.53,497.63 487.00,498.50 C490.47,499.37 495.58,500.42 497.30,500.80" fill="none" stroke="#3a3aa0" stroke-width="1.10" stroke-linejoin="round" stroke-linecap="round" />
<path d="M353.40,467.30 C354.25,468.00 356.47,468.63 358.50,471.50 C360.53,474.37 363.60,480.25 365.60,484.50 C367.60,488.75 369.10,493.42 370.50,497.00 C371.90,500.58 372.95,503.70 374.00,506.00 C375.05,508.30 375.88,510.38 376.80,510.80 C377.72,511.22 378.47,510.47 379.50,508.50 C380.53,506.53 381.75,503.58 383.00,499.00 C384.25,494.42 385.83,487.17 387.00,481.00 C388.17,474.83 389.15,467.83 390.00,462.00 C390.85,456.17 391.27,451.83 392.10,446.00 C392.93,440.17 393.92,433.67 395.00,427.00 C396.08,420.33 397.63,411.83 398.60,406.00 C399.57,400.17 400.02,397.50 400.80,392.00 C401.58,386.50 402.40,379.17 403.30,373.00 C404.20,366.83 405.37,359.00 406.20,355.00 C407.03,351.00 407.60,350.30 408.30,349.00 C409.00,347.70 409.70,347.20 410.40,347.20 C411.10,347.20 411.77,347.70 412.50,349.00 C413.23,350.30 413.95,351.50 414.80,355.00 C415.65,358.50 416.72,364.67 417.60,370.00 C418.48,375.33 419.25,381.50 420.10,387.00 C420.95,392.50 421.68,397.67 422.70,403.00 C423.72,408.33 425.03,413.83 426.20,419.00 C427.37,424.17 428.25,429.08 429.70,434.00 C431.15,438.92 432.88,444.08 434.90,448.50 C436.92,452.92 438.92,456.50 441.80,460.50 C444.68,464.50 448.83,469.33 452.20,472.50 C455.57,475.67 458.63,477.67 462.00,479.50 C465.37,481.33 468.60,482.17 472.40,483.50 C476.20,484.83 480.82,486.17 484.80,487.50 C488.78,488.83 494.38,490.83 496.30,491.50" fill="none" stroke="#a040a8" stroke-width="1.10" stroke-linejoin="round" stroke-linecap="round" />
<path d="M353.40,462.60 C354.25,463.42 356.47,464.35 358.50,467.50 C360.53,470.65 363.60,477.08 365.60,481.50 C367.60,485.92 369.10,490.33 370.50,494.00 C371.90,497.67 372.95,501.25 374.00,503.50 C375.05,505.75 375.88,507.25 376.80,507.50 C377.72,507.75 378.47,506.92 379.50,505.00 C380.53,503.08 381.75,500.50 383.00,496.00 C384.25,491.50 385.83,484.17 387.00,478.00 C388.17,471.83 389.15,465.00 390.00,459.00 C390.85,453.00 391.27,448.00 392.10,442.00 C392.93,436.00 393.92,429.67 395.00,423.00 C396.08,416.33 397.63,408.17 398.60,402.00 C399.57,395.83 400.02,392.00 400.80,386.00 C401.58,380.00 402.40,372.50 403.30,366.00 C404.20,359.50 405.37,351.17 406.20,347.00 C407.03,342.83 407.60,342.33 408.30,341.00 C409.00,339.67 409.70,339.00 410.40,339.00 C411.10,339.00 411.77,339.67 412.50,341.00 C413.23,342.33 413.95,343.17 414.80,347.00 C415.65,350.83 416.72,358.17 417.60,364.00 C418.48,369.83 419.25,376.17 420.10,382.00 C420.95,387.83 421.68,393.33 422.70,399.00 C423.72,404.67 425.03,410.58 426.20,416.00 C427.37,421.42 428.25,426.33 429.70,431.50 C431.15,436.67 432.88,442.33 434.90,447.00 C436.92,451.67 438.92,455.33 441.80,459.50 C444.68,463.67 448.83,468.75 452.20,472.00 C455.57,475.25 458.63,476.97 462.00,479.00 C465.37,481.03 468.60,482.62 472.40,484.20 C476.20,485.78 480.82,486.93 484.80,488.50 C488.78,490.07 494.38,492.75 496.30,493.60" fill="none" stroke="#eeee30" stroke-width="1.10" stroke-linejoin="round" stroke-linecap="round" />
<path d="M353.40,458.70 C354.25,459.50 356.47,460.12 358.50,463.50 C360.53,466.88 363.60,474.08 365.60,479.00 C367.60,483.92 369.10,489.00 370.50,493.00 C371.90,497.00 372.95,500.62 374.00,503.00 C375.05,505.38 375.88,506.97 376.80,507.30 C377.72,507.63 378.47,506.88 379.50,505.00 C380.53,503.12 381.75,500.50 383.00,496.00 C384.25,491.50 385.83,484.33 387.00,478.00 C388.17,471.67 389.15,464.33 390.00,458.00 C390.85,451.67 391.27,446.33 392.10,440.00 C392.93,433.67 393.92,427.00 395.00,420.00 C396.08,413.00 397.63,404.67 398.60,398.00 C399.57,391.33 400.02,386.82 400.80,380.00 C401.58,373.18 402.40,364.08 403.30,357.10 C404.20,350.12 405.37,342.70 406.20,338.10 C407.03,333.50 407.60,331.40 408.30,329.50 C409.00,327.60 409.70,326.70 410.40,326.70 C411.10,326.70 411.77,327.60 412.50,329.50 C413.23,331.40 413.95,333.50 414.80,338.10 C415.65,342.70 416.72,350.45 417.60,357.10 C418.48,363.75 419.25,371.30 420.10,378.00 C420.95,384.70 421.68,391.18 422.70,397.30 C423.72,403.42 425.03,409.25 426.20,414.70 C427.37,420.15 428.25,424.87 429.70,430.00 C431.15,435.13 432.88,440.83 434.90,445.50 C436.92,450.17 438.92,453.88 441.80,458.00 C444.68,462.12 448.83,467.05 452.20,470.20 C455.57,473.35 458.63,475.08 462.00,476.90 C465.37,478.72 468.60,479.72 472.40,481.10 C476.20,482.48 480.82,483.65 484.80,485.20 C488.78,486.75 494.38,489.53 496.30,490.40" fill="none" stroke="#30e0f0" stroke-width="1.10" stroke-linejoin="round" stroke-linecap="round" />
<text x="407.50" y="324.00" font-family="Liberation Sans" font-size="8.50" font-weight="normal" text-anchor="middle" fill="#222" >6</text>
<text x="408.30" y="385.60" font-family="Liberation Serif" font-size="9.50" font-weight="normal" text-anchor="middle" fill="#222" >2</text>
<text x="406.80" y="430.50" font-family="Liberation Serif" font-size="9.50" font-weight="normal" text-anchor="middle" fill="#222" >1</text>
<text x="464.00" y="484.80" font-family="Liberation Sans" font-size="9.00" font-weight="normal" text-anchor="middle" fill="#222" >5</text>
<text x="502.00" y="494.80" font-family="Liberation Sans" font-size="9.00" font-weight="normal" text-anchor="middle" fill="#222" >4</text>
<text x="503.60" y="504.20" font-family="Liberation Sans" font-size="9.00" font-weight="normal" text-anchor="middle" fill="#222" >3</text>
<rect x="460.5" y="347.5" width="55.0" height="95.0" fill="#777"/>
<rect x="458.7" y="345.6" width="55.0" height="95.0" fill="#fff" stroke="#111" stroke-width="1.6"/>
<text x="474.30" y="359.40" font-family="Liberation Sans" font-size="7.00" font-weight="normal" text-anchor="middle" fill="#333" >1</text>
<text x="480.50" y="360.30" font-family="Liberation Sans" font-size="9.20" font-weight="normal" text-anchor="start" fill="#222" >10 min</text>
<text x="474.30" y="374.35" font-family="Liberation Sans" font-size="7.00" font-weight="normal" text-anchor="middle" fill="#333" >2</text>
<text x="480.50" y="375.25" font-family="Liberation Sans" font-size="9.20" font-weight="normal" text-anchor="start" fill="#222" >1 hr</text>
<text x="474.30" y="389.30" font-family="Liberation Sans" font-size="7.00" font-weight="normal" text-anchor="middle" fill="#333" >3</text>
<text x="480.50" y="390.20" font-family="Liberation Sans" font-size="9.20" font-weight="normal" text-anchor="start" fill="#222" >2 hr</text>
<text x="474.30" y="404.25" font-family="Liberation Sans" font-size="7.00" font-weight="normal" text-anchor="middle" fill="#333" >4</text>
<text x="480.50" y="405.15" font-family="Liberation Sans" font-size="9.20" font-weight="normal" text-anchor="start" fill="#222" >3 hr</text>
<text x="474.30" y="419.20" font-family="Liberation Sans" font-size="7.00" font-weight="normal" text-anchor="middle" fill="#333" >5</text>
<text x="480.50" y="420.10" font-family="Liberation Sans" font-size="9.20" font-weight="normal" text-anchor="start" fill="#222" >4 hr</text>
<text x="474.30" y="434.15" font-family="Liberation Sans" font-size="7.00" font-weight="normal" text-anchor="middle" fill="#333" >6</text>
<text x="480.50" y="435.05" font-family="Liberation Sans" font-size="9.20" font-weight="normal" text-anchor="start" fill="#222" >24 hr</text>
<line x1="463.50" y1="401.70" x2="465.50" y2="401.70" stroke="#30e0f0" stroke-width="1.00"/>
</svg>
</body></html>
